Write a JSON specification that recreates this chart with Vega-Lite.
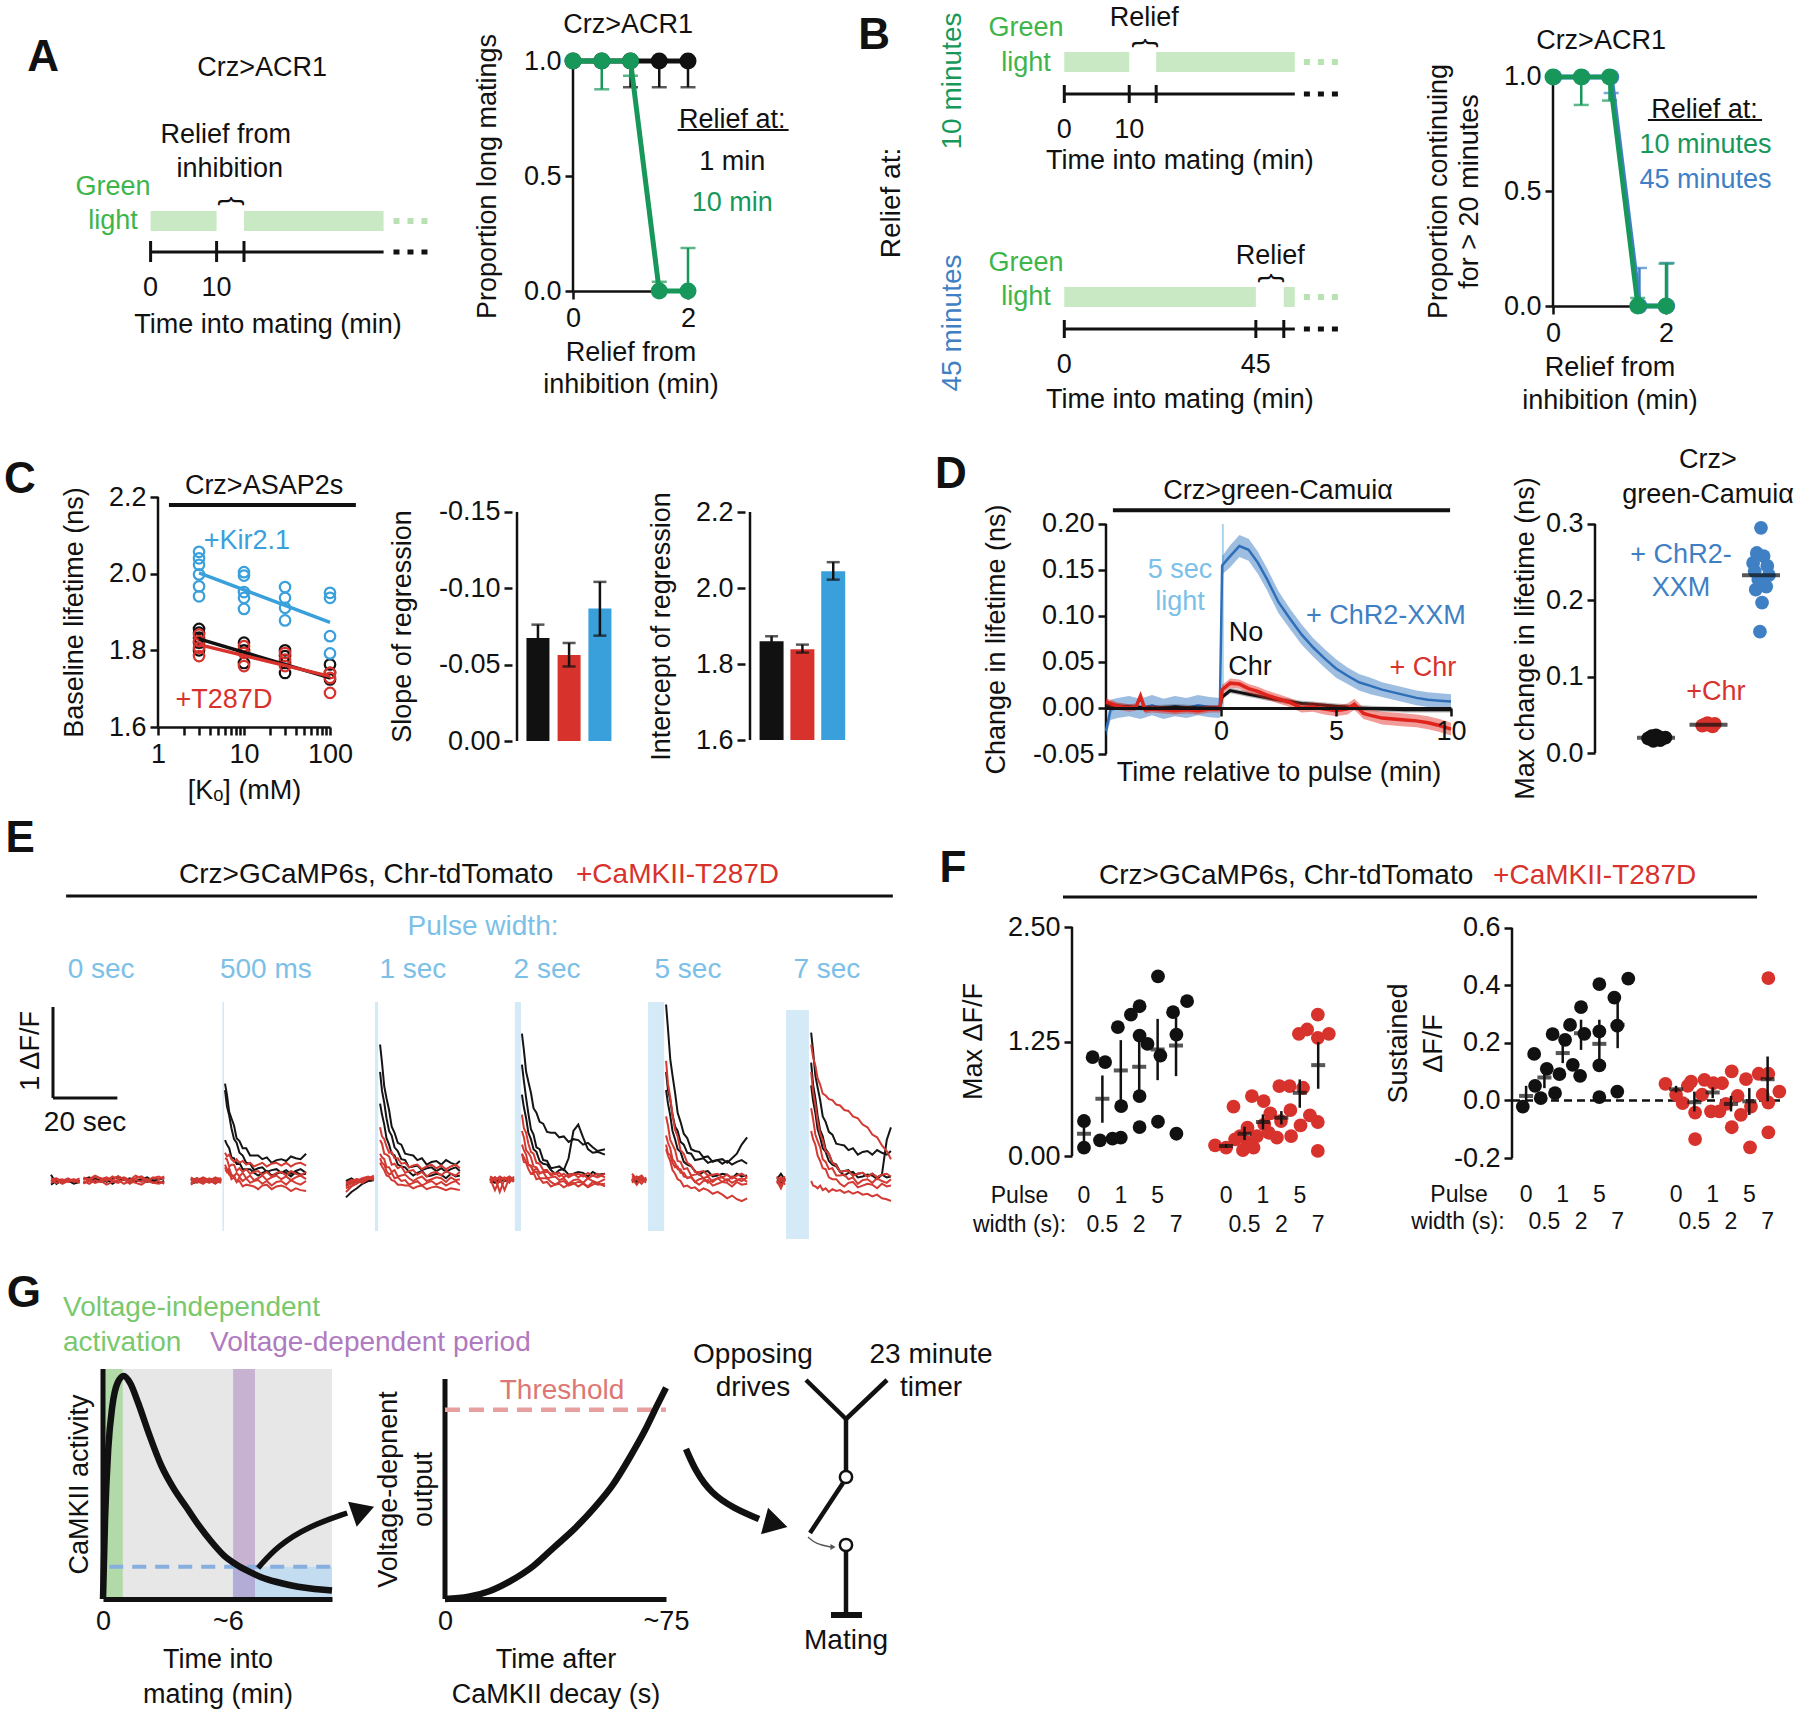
{
"$schema":"https://vega.github.io/schema/vega-lite/v6.json",
"padding":0,
"background":"white",
"config":{
 "view":{"stroke":null},
 "font":"Liberation Sans",
 "legend":{"disable":true},
 "axis":{"grid":false,"domainColor":"#111111","tickColor":"#111111","labelColor":"#111111","titleColor":"#111111","domainWidth":2.5,"tickWidth":2.5,"tickSize":8,"labelFontSize":27,"titleFontSize":27,"titleFontWeight":"normal","labelFont":"Liberation Sans","titleFont":"Liberation Sans","labelPadding":4,"titlePadding":8,"labelFlush":false,"labelOverlap":false,"titleLineHeight":33},
 "text":{"font":"Liberation Sans","fontSize":27},
 "concat":{"spacing":0}
},
"datasets":{
 "errA":[{"c":"k","x":1,"y":1,"y2":0.886},{"c":"k","x":1.5,"y":1,"y2":0.886},{"c":"k","x":2,"y":1,"y2":0.886},{"c":"g","x":0.5,"y":1,"y2":0.877},{"c":"g","x":1,"y":1,"y2":0.936},{"c":"g","x":1.5,"y":0,"y2":0.04},{"c":"g","x":2,"y":0,"y2":0.187}],
 "lineA":[{"c":"k","x":0,"y":1},{"c":"k","x":0.5,"y":1},{"c":"k","x":1,"y":1},{"c":"k","x":1.5,"y":1},{"c":"k","x":2,"y":1},{"c":"g","x":0,"y":1},{"c":"g","x":0.5,"y":1},{"c":"g","x":1,"y":1},{"c":"g","x":1.5,"y":0},{"c":"g","x":2,"y":0}],
 "errB":[{"c":"b","x":1.03,"y":1,"y2":0.93},{"c":"b","x":1.53,"y":0,"y2":0.166},{"c":"b","x":2.02,"y":0,"y2":0.188},{"c":"g","x":0.5,"y":1,"y2":0.878},{"c":"g","x":1,"y":1,"y2":0.897},{"c":"g","x":1.5,"y":0,"y2":0.035},{"c":"g","x":2,"y":0,"y2":0.185}],
 "lineB":[{"c":"b","x":0.02,"y":1},{"c":"b","x":0.52,"y":1},{"c":"b","x":1.03,"y":1},{"c":"b","x":1.53,"y":0},{"c":"b","x":2.02,"y":0},{"c":"g","x":0,"y":1},{"c":"g","x":0.5,"y":1},{"c":"g","x":1,"y":1},{"c":"g","x":1.5,"y":0},{"c":"g","x":2,"y":0}],
 "cpts":[
  {"c":"k","x":3,"y":1.856},{"c":"k","x":3,"y":1.846},{"c":"k","x":3,"y":1.833},{"c":"k","x":3,"y":1.82},{"c":"k","x":3,"y":1.80},
  {"c":"k","x":10,"y":1.82},{"c":"k","x":10,"y":1.80},{"c":"k","x":10,"y":1.767},
  {"c":"k","x":30,"y":1.80},{"c":"k","x":30,"y":1.785},{"c":"k","x":30,"y":1.767},{"c":"k","x":30,"y":1.741},
  {"c":"k","x":100,"y":1.763},{"c":"k","x":100,"y":1.741},{"c":"k","x":100,"y":1.724},
  {"c":"r","x":3,"y":1.841},{"c":"r","x":3,"y":1.824},{"c":"r","x":3,"y":1.807},{"c":"r","x":3,"y":1.785},
  {"c":"r","x":10,"y":1.811},{"c":"r","x":10,"y":1.793},{"c":"r","x":10,"y":1.759},
  {"c":"r","x":30,"y":1.793},{"c":"r","x":30,"y":1.776},{"c":"r","x":30,"y":1.759},
  {"c":"r","x":100,"y":1.741},{"c":"r","x":100,"y":1.728},{"c":"r","x":100,"y":1.689},
  {"c":"cb","x":3,"y":2.057},{"c":"cb","x":3,"y":2.040},{"c":"cb","x":3,"y":2.023},{"c":"cb","x":3,"y":1.998},{"c":"cb","x":3,"y":1.967},{"c":"cb","x":3,"y":1.941},
  {"c":"cb","x":10,"y":2.004},{"c":"cb","x":10,"y":1.995},{"c":"cb","x":10,"y":1.952},{"c":"cb","x":10,"y":1.937},{"c":"cb","x":10,"y":1.908},
  {"c":"cb","x":30,"y":1.965},{"c":"cb","x":30,"y":1.937},{"c":"cb","x":30,"y":1.911},{"c":"cb","x":30,"y":1.878},
  {"c":"cb","x":100,"y":1.950},{"c":"cb","x":100,"y":1.937},{"c":"cb","x":100,"y":1.837},{"c":"cb","x":100,"y":1.792}],
 "dtr":[
  {"c":"db","x":[-5,-4.8,-4.5,-4,-3.5,-3,-2.5,-2,-1.5,-1,-0.5,-0.05,0.05,0.4,0.8,1.2,1.6,2,2.5,3,3.5,4,4.5,5,5.5,6,6.5,7,7.5,8,8.5,9,9.5,10],
   "m":[-0.025,-0.002,0,0.002,-0.001,0.003,-0.001,0.002,0,0.003,0.001,0,0.155,0.165,0.176,0.172,0.158,0.14,0.115,0.097,0.08,0.066,0.054,0.043,0.035,0.028,0.024,0.02,0.017,0.014,0.011,0.009,0.008,0.007],
   "lo":[-0.031,-0.013,-0.011,-0.009,-0.012,-0.008,-0.012,-0.009,-0.011,-0.008,-0.010,-0.011,0.145,0.153,0.164,0.160,0.146,0.128,0.103,0.086,0.069,0.056,0.044,0.033,0.026,0.019,0.015,0.012,0.009,0.006,0.003,0.001,0.000,-0.001],
   "hi":[-0.019,0.009,0.011,0.013,0.010,0.014,0.010,0.013,0.011,0.014,0.012,0.011,0.165,0.177,0.188,0.184,0.170,0.152,0.127,0.108,0.091,0.076,0.064,0.053,0.044,0.037,0.033,0.028,0.025,0.022,0.019,0.017,0.016,0.015]},
  {"c":"k","x":[-5,-4,-3,-2,-1,-0.05,0.05,0.4,0.8,1.2,1.6,2,2.5,3,3.5,4,4.5,5,5.5,6,7,8,9,10],
   "m":[0.003,0.001,0,0.001,0,0,0.012,0.019,0.017,0.015,0.013,0.011,0.009,0.007,0.005,0.004,0.003,0.002,0.001,0,-0.001,-0.002,-0.002,-0.002],
   "lo":[0,-0.002,-0.003,-0.002,-0.003,-0.003,0.009,0.016,0.014,0.012,0.010,0.008,0.006,0.004,0.002,0.001,0,-0.001,-0.002,-0.003,-0.004,-0.005,-0.005,-0.005],
   "hi":[0.006,0.004,0.003,0.004,0.003,0.003,0.015,0.022,0.020,0.018,0.016,0.014,0.012,0.010,0.008,0.007,0.006,0.005,0.004,0.003,0.002,0.001,0.001,0.001]},
  {"c":"r","x":[-5,-4.5,-4,-3.7,-3.5,-3.3,-3,-2.5,-2,-1.5,-1,-0.5,-0.05,0.05,0.4,0.8,1.2,1.6,2,2.5,3,3.5,4,4.5,5,5.5,5.8,6.2,6.5,7,7.5,8,8.5,9,9.5,10],
   "m":[0.007,0.002,0,0.001,0.013,-0.002,-0.001,-0.002,-0.003,-0.002,-0.003,-0.001,-0.001,0.02,0.027,0.026,0.021,0.018,0.014,0.01,0.006,0,0.001,-0.001,-0.003,-0.001,0.004,-0.006,-0.008,-0.011,-0.012,-0.013,-0.014,-0.016,-0.019,-0.023],
   "lo":[0.003,-0.002,-0.004,-0.003,0.009,-0.006,-0.005,-0.006,-0.007,-0.006,-0.007,-0.005,-0.005,0.015,0.022,0.021,0.016,0.013,0.009,0.005,0.001,-0.005,-0.004,-0.007,-0.009,-0.007,-0.002,-0.012,-0.014,-0.018,-0.019,-0.020,-0.021,-0.023,-0.026,-0.030],
   "hi":[0.011,0.006,0.004,0.005,0.017,0.002,0.003,0.002,0.001,0.002,0.001,0.003,0.003,0.025,0.032,0.031,0.026,0.023,0.019,0.015,0.011,0.005,0.006,0.005,0.003,0.005,0.010,0.000,-0.002,-0.004,-0.005,-0.006,-0.007,-0.009,-0.012,-0.016]}],
 "ddot":[
  {"c":"k","x":0.85,"y":0.019},{"c":"k","x":0.92,"y":0.022},{"c":"k","x":0.98,"y":0.018},{"c":"k","x":1.05,"y":0.021},{"c":"k","x":1.12,"y":0.019},{"c":"k","x":1.18,"y":0.02},{"c":"k","x":0.95,"y":0.016},{"c":"k","x":1.08,"y":0.017},{"c":"k","x":1.0,"y":0.023},{"c":"k","x":1.02,"y":0.02},
  {"c":"r","x":1.92,"y":0.037},{"c":"r","x":1.98,"y":0.039},{"c":"r","x":2.05,"y":0.036},{"c":"r","x":2.12,"y":0.038},{"c":"r","x":1.88,"y":0.036},{"c":"r","x":2.08,"y":0.035},{"c":"r","x":2.0,"y":0.038},
  {"c":"b","x":3.0,"y":0.295},{"c":"b","x":2.92,"y":0.262},{"c":"b","x":3.05,"y":0.258},{"c":"b","x":2.85,"y":0.249},{"c":"b","x":3.12,"y":0.245},{"c":"b","x":2.88,"y":0.238},{"c":"b","x":3.15,"y":0.233},{"c":"b","x":2.95,"y":0.227},{"c":"b","x":3.1,"y":0.218},{"c":"b","x":2.9,"y":0.214},{"c":"b","x":3.02,"y":0.197},{"c":"b","x":2.98,"y":0.159}],
 "etr":[
  {"id":"0b1a","c":"k","x":[0.3,2,3.8,5.6,7.4,9.2],"v":[0.07,-0.03,0.01,0.0,-0.02,0.01]},
  {"id":"0b1b","c":"k","x":[10.4,12.2,14,15.8,17.6,19.4,21.2,23,24.8,26.6,28.4,30.2,32,33.8,35.5],"v":[0.02,0.04,0.0,0.03,-0.01,0.02,0.05,0.01,0.03,-0.01,0.02,0.04,0.0,0.02,0.03]},
  {"id":"0b2a","c":"k","x":[0.3,2,3.8,5.6,7.4,9.2],"v":[-0.04,0.0,-0.02,0.01,-0.03,-0.01]},
  {"id":"0b2b","c":"k","x":[10.4,12.2,14,15.8,17.6,19.4,21.2,23,24.8,26.6,28.4,30.2,32,33.8,35.5],"v":[-0.02,0.0,0.03,-0.01,0.02,-0.03,0.01,0.03,-0.02,0.0,0.02,-0.01,0.01,-0.02,0.0]},
  {"id":"0r1a","c":"r","x":[0.3,2,3.8,5.6,7.4,9.2],"v":[0.02,0.03,-0.01,0.02,0.0,0.03]},
  {"id":"0r1b","c":"r","x":[10.4,12.2,14,15.8,17.6,19.4,21.2,23,24.8,26.6,28.4,30.2,32,33.8,35.5],"v":[0.04,0.02,0.06,0.03,0.0,0.05,0.02,0.04,0.01,0.06,0.03,0.0,0.04,0.02,0.05]},
  {"id":"0r2a","c":"r","x":[0.3,2,3.8,5.6,7.4,9.2],"v":[-0.02,0.01,0.02,-0.01,0.01,-0.02]},
  {"id":"0r2b","c":"r","x":[10.4,12.2,14,15.8,17.6,19.4,21.2,23,24.8,26.6,28.4,30.2,32,33.8,35.5],"v":[0.0,-0.03,0.01,-0.01,0.03,0.0,-0.02,0.02,-0.03,0.01,-0.01,0.02,-0.02,0.0,-0.03]},
  {"id":"0r3a","c":"r","x":[0.3,2,3.8,5.6,7.4,9.2],"v":[0.01,-0.02,0.0,0.03,-0.01,0.0]},
  {"id":"0r3b","c":"r","x":[10.4,12.2,14,15.8,17.6,19.4,21.2,23,24.8,26.6,28.4,30.2,32,33.8,35.5],"v":[0.03,0.0,0.05,0.02,0.04,0.01,0.05,0.02,0.0,0.03,0.05,0.01,0.03,0.05,0.02]},
  {"id":"0r4a","c":"r","x":[0.3,2,3.8,5.6,7.4,9.2],"v":[0.0,0.02,-0.03,0.0,0.02,-0.01]},
  {"id":"0r4b","c":"r","x":[10.4,12.2,14,15.8,17.6,19.4,21.2,23,24.8,26.6,28.4,30.2,32,33.8,35.5],"v":[-0.03,0.01,-0.02,0.0,-0.04,-0.01,0.01,-0.03,0.0,-0.02,-0.04,0.0,-0.02,-0.03,-0.01]},
  {"id":"1b1a","c":"k","x":[43.8,45.7,47.6,49.5,51.4,53.2],"v":[0.02,-0.01,0.03,0.0,0.02,0.01]},
  {"id":"1b2a","c":"k","x":[43.8,45.7,47.6,49.5,51.4,53.2],"v":[-0.03,-0.01,0.02,0.0,-0.02,0.01]},
  {"id":"1b3a","c":"k","x":[43.8,45.7,47.6,49.5,51.4,53.2],"v":[0.01,0.03,-0.02,0.01,0.03,0.02]},
  {"id":"1r1a","c":"r","x":[43.8,45.7,47.6,49.5,51.4,53.2],"v":[0.0,0.03,0.01,-0.02,0.02,0.03]},
  {"id":"1r2a","c":"r","x":[43.8,45.7,47.6,49.5,51.4,53.2],"v":[-0.04,0.02,-0.01,0.03,0.0,-0.02]},
  {"id":"1r3a","c":"r","x":[43.8,45.7,47.6,49.5,51.4,53.2],"v":[0.03,-0.02,0.02,0.0,0.04,0.01]},
  {"id":"1r4a","c":"r","x":[43.8,45.7,47.6,49.5,51.4,53.2],"v":[-0.02,0.01,0.04,0.01,-0.03,0.02]},
  {"id":"1r5a","c":"r","x":[43.8,45.7,47.6,49.5,51.4,53.2],"v":[0.04,0.0,-0.03,0.02,0.01,-0.01]},
  {"id":"1b1b","c":"k","x":[54.4,55,55.7,56.4,57.2,58,58.9,59.9,61,62.2,63.4,64.7,66,67.4,68.9,70.4,71.9,73.4,74.9,76.4,77.9,79.6],"v":[1.07,0.95,0.76,0.69,0.61,0.47,0.44,0.36,0.36,0.28,0.28,0.28,0.24,0.26,0.20,0.23,0.24,0.22,0.27,0.25,0.24,0.30]},
  {"id":"1b2b","c":"k","x":[54.4,55,55.7,56.4,57.2,58,58.9,59.9,61,62.2,63.4,64.7,66,67.4,68.9,70.4,71.9,73.4,74.9,76.4,77.9,79.6],"v":[1.0,0.82,0.72,0.58,0.46,0.42,0.31,0.28,0.20,0.19,0.12,0.14,0.15,0.10,0.12,0.13,0.09,0.12,0.08,0.11,0.13,0.09]},
  {"id":"1b3b","c":"k","x":[54.4,55,55.7,56.4,57.2,58,58.9,59.9,61,62.2,63.4,64.7,66,67.4,68.9,70.4,71.9,73.4,74.9,76.4,77.9,79.6],"v":[0.45,0.40,0.36,0.26,0.25,0.19,0.20,0.13,0.13,0.13,0.09,0.06,0.09,0.11,0.06,0.08,0.10,0.09,0.05,0.10,0.07,0.08]},
  {"id":"1r1b","c":"r","x":[54.4,55,55.7,56.4,57.2,58,58.9,59.9,61,62.2,63.4,64.7,66,67.4,68.9,70.4,71.9,73.4,74.9,76.4,77.9,79.6],"v":[0.31,0.27,0.29,0.24,0.21,0.24,0.20,0.22,0.18,0.20,0.16,0.18,0.20,0.16,0.19,0.20,0.17,0.20,0.16,0.19,0.20,0.17]},
  {"id":"1r2b","c":"r","x":[54.4,55,55.7,56.4,57.2,58,58.9,59.9,61,62.2,63.4,64.7,66,67.4,68.9,70.4,71.9,73.4,74.9,76.4,77.9,79.6],"v":[0.25,0.24,0.16,0.18,0.18,0.11,0.14,0.10,0.13,0.08,0.10,0.11,0.07,0.10,0.05,0.09,0.10,0.06,0.11,0.08,0.06,0.10]},
  {"id":"1r3b","c":"r","x":[54.4,55,55.7,56.4,57.2,58,58.9,59.9,61,62.2,63.4,64.7,66,67.4,68.9,70.4,71.9,73.4,74.9,76.4,77.9,79.6],"v":[0.15,0.10,0.14,0.07,0.05,0.09,0.05,0.09,0.03,0.06,0.01,0.03,0.06,0.01,0.04,0.06,0.02,0.05,0.01,0.04,0.06,0.02]},
  {"id":"1r4b","c":"r","x":[54.4,55,55.7,56.4,57.2,58,58.9,59.9,61,62.2,63.4,64.7,66,67.4,68.9,70.4,71.9,73.4,74.9,76.4,77.9,79.6],"v":[0.12,0.11,0.07,0.05,0.06,-0.01,0.04,0.0,0.03,-0.02,0.0,0.01,-0.03,0.0,-0.05,-0.01,0.0,-0.04,0.01,-0.02,-0.04,0.0]},
  {"id":"1r5b","c":"r","x":[54.4,55,55.7,56.4,57.2,58,58.9,59.9,61,62.2,63.4,64.7,66,67.4,68.9,70.4,71.9,73.4,74.9,76.4,77.9,79.6],"v":[0.18,0.13,0.1,0.02,0.04,-0.01,0.0,-0.06,-0.04,-0.05,-0.06,-0.09,-0.05,-0.04,-0.09,-0.06,-0.05,-0.07,-0.11,-0.08,-0.1,-0.11]},
  {"id":"2b1a","c":"k","x":[92,93.7,95.4,97.1,98.9,100.7],"v":[-0.05,-0.02,0.0,0.02,0.01,0.02]},
  {"id":"2b2a","c":"k","x":[92,93.7,95.4,97.1,98.9,100.7],"v":[-0.18,-0.12,-0.08,-0.03,0.0,0.01]},
  {"id":"2b3a","c":"k","x":[92,93.7,95.4,97.1,98.9,100.7],"v":[0.0,0.03,-0.01,0.02,0.0,0.01]},
  {"id":"2r1a","c":"r","x":[92,93.7,95.4,97.1,98.9,100.7],"v":[-0.12,-0.06,-0.03,0.01,0.02,0.04]},
  {"id":"2r2a","c":"r","x":[92,93.7,95.4,97.1,98.9,100.7],"v":[-0.06,-0.02,0.02,0.0,0.03,0.01]},
  {"id":"2r3a","c":"r","x":[92,93.7,95.4,97.1,98.9,100.7],"v":[-0.02,0.01,0.0,0.03,0.05,0.02]},
  {"id":"2r4a","c":"r","x":[92,93.7,95.4,97.1,98.9,100.7],"v":[-0.08,-0.05,0.0,-0.02,0.02,0.03]},
  {"id":"2r5a","c":"r","x":[92,93.7,95.4,97.1,98.9,100.7],"v":[-0.03,0.0,0.02,-0.01,0.03,0.06]},
  {"id":"2b1b","c":"k","x":[102.6,103.2,103.9,104.6,105.4,106.2,107.1,108.1,109.2,110.4,111.6,112.9,114.2,115.6,117.1,118.6,120.1,121.6,123.1,124.6,126.1,127.4],"v":[1.50,1.30,1.04,0.91,0.78,0.60,0.53,0.42,0.40,0.30,0.29,0.28,0.23,0.25,0.18,0.21,0.22,0.18,0.23,0.20,0.18,0.22]},
  {"id":"2b2b","c":"k","x":[102.6,103.2,103.9,104.6,105.4,106.2,107.1,108.1,109.2,110.4,111.6,112.9,114.2,115.6,117.1,118.6,120.1,121.6,123.1,124.6,126.1,127.4],"v":[1.2,0.99,0.86,0.69,0.55,0.50,0.37,0.33,0.24,0.23,0.15,0.16,0.17,0.12,0.14,0.15,0.11,0.14,0.10,0.13,0.15,0.11]},
  {"id":"2b3b","c":"k","x":[102.6,103.2,103.9,104.6,105.4,106.2,107.1,108.1,109.2,110.4,111.6,112.9,114.2,115.6,117.1,118.6,120.1,121.6,123.1,124.6,126.1,127.4],"v":[0.85,0.73,0.62,0.47,0.40,0.30,0.28,0.18,0.16,0.15,0.10,0.06,0.09,0.11,0.05,0.06,0.08,0.07,0.03,0.08,0.05,0.06]},
  {"id":"2r1b","c":"r","x":[102.6,103.2,103.9,104.6,105.4,106.2,107.1,108.1,109.2,110.4,111.6,112.9,114.2,115.6,117.1,118.6,120.1,121.6,123.1,124.6,126.1,127.4],"v":[0.59,0.49,0.46,0.38,0.31,0.32,0.25,0.25,0.19,0.2,0.15,0.17,0.18,0.13,0.16,0.18,0.14,0.17,0.13,0.16,0.18,0.14]},
  {"id":"2r2b","c":"r","x":[102.6,103.2,103.9,104.6,105.4,106.2,107.1,108.1,109.2,110.4,111.6,112.9,114.2,115.6,117.1,118.6,120.1,121.6,123.1,124.6,126.1,127.4],"v":[0.45,0.41,0.30,0.29,0.27,0.18,0.19,0.14,0.16,0.09,0.11,0.12,0.07,0.10,0.05,0.09,0.10,0.06,0.11,0.08,0.06,0.10]},
  {"id":"2r3b","c":"r","x":[102.6,103.2,103.9,104.6,105.4,106.2,107.1,108.1,109.2,110.4,111.6,112.9,114.2,115.6,117.1,118.6,120.1,121.6,123.1,124.6,126.1,127.4],"v":[0.30,0.26,0.24,0.15,0.15,0.10,0.12,0.05,0.06,0.07,0.03,0.0,0.03,0.05,0.0,0.02,0.04,0.03,-0.01,0.04,0.01,0.02]},
  {"id":"2r4b","c":"r","x":[102.6,103.2,103.9,104.6,105.4,106.2,107.1,108.1,109.2,110.4,111.6,112.9,114.2,115.6,117.1,118.6,120.1,121.6,123.1,124.6,126.1,127.4],"v":[0.25,0.20,0.18,0.11,0.07,0.09,0.03,0.04,0.0,0.01,-0.04,-0.02,0.0,-0.05,-0.02,0.0,-0.04,-0.01,-0.05,-0.02,0.0,-0.04]},
  {"id":"2r5b","c":"r","x":[102.6,103.2,103.9,104.6,105.4,106.2,107.1,108.1,109.2,110.4,111.6,112.9,114.2,115.6,117.1,118.6,120.1,121.6,123.1,124.6,126.1,127.4],"v":[0.20,0.16,0.12,0.06,0.05,0.01,0.0,-0.04,-0.04,-0.05,-0.05,-0.08,-0.06,-0.05,-0.09,-0.07,-0.06,-0.08,-0.1,-0.08,-0.09,-0.1]},
  {"id":"3b1a","c":"k","x":[136.8,138.3,139.8,141.3,142.8,144.2],"v":[0.02,0.0,0.03,0.01,0.02,0.0]},
  {"id":"3b2a","c":"k","x":[136.8,138.3,139.8,141.3,142.8,144.2],"v":[0.0,0.02,-0.01,0.03,0.0,0.02]},
  {"id":"3b3a","c":"k","x":[136.8,138.3,139.8,141.3,142.8,144.2],"v":[0.01,-0.02,0.02,0.0,0.01,0.03]},
  {"id":"3r1a","c":"r","x":[136.8,138.3,139.8,141.3,142.8,144.2],"v":[0.03,-0.1,0.02,0.04,0.0,0.03]},
  {"id":"3r2a","c":"r","x":[136.8,138.3,139.8,141.3,142.8,144.2],"v":[0.0,0.04,-0.12,0.02,0.05,0.01]},
  {"id":"3r3a","c":"r","x":[136.8,138.3,139.8,141.3,142.8,144.2],"v":[0.05,0.02,0.03,-0.1,0.04,0.0]},
  {"id":"3r4a","c":"r","x":[136.8,138.3,139.8,141.3,142.8,144.2],"v":[-0.02,0.04,0.01,0.03,-0.02,0.05]},
  {"id":"3r5a","c":"r","x":[136.8,138.3,139.8,141.3,142.8,144.2],"v":[0.04,0.0,0.05,0.02,0.03,-0.01]},
  {"id":"3b1b","c":"k","x":[146.7,147.3,148,148.7,149.5,150.3,151.2,152.2,153.3,154.5,155.7,157,158.3,159.7,161.2,162.7,164.2,165.7,167.2,168.7,170.2,172.5],"v":[1.62,1.44,1.20,1.09,0.97,0.80,0.75,0.65,0.63,0.54,0.53,0.53,0.48,0.49,0.43,0.46,0.45,0.40,0.42,0.37,0.33,0.35]},
  {"id":"3b2b","c":"k","x":[146.7,147.3,148,148.7,149.5,150.3,151.2,152.2,153.3,154.5,155.7,157,158.3,159.7,161.2,162.7,164.2,165.7,167.2,168.7,170.2,172.5],"v":[1.28,1.10,0.91,0.74,0.57,0.51,0.37,0.35,0.23,0.22,0.14,0.15,0.16,0.12,0.25,0.55,0.62,0.48,0.35,0.31,0.32,0.29]},
  {"id":"3b3b","c":"k","x":[146.7,147.3,148,148.7,149.5,150.3,151.2,152.2,153.3,154.5,155.7,157,158.3,159.7,161.2,162.7,164.2,165.7,167.2,168.7,170.2,172.5],"v":[0.95,0.81,0.69,0.53,0.46,0.35,0.32,0.22,0.19,0.18,0.12,0.08,0.12,0.13,0.07,0.08,0.10,0.09,0.05,0.10,0.07,0.08]},
  {"id":"3r1b","c":"r","x":[146.7,147.3,148,148.7,149.5,150.3,151.2,152.2,153.3,154.5,155.7,157,158.3,159.7,161.2,162.7,164.2,165.7,167.2,168.7,170.2,172.5],"v":[0.73,0.58,0.53,0.41,0.32,0.30,0.20,0.19,0.12,0.12,0.06,0.08,0.09,0.04,0.07,0.08,0.04,0.07,0.03,0.06,0.08,0.04]},
  {"id":"3r2b","c":"r","x":[146.7,147.3,148,148.7,149.5,150.3,151.2,152.2,153.3,154.5,155.7,157,158.3,159.7,161.2,162.7,164.2,165.7,167.2,168.7,170.2,172.5],"v":[0.55,0.48,0.34,0.31,0.26,0.16,0.15,0.09,0.10,0.03,0.04,0.05,0.01,0.03,-0.03,0.01,0.02,-0.02,0.03,0.0,-0.02,0.02]},
  {"id":"3r3b","c":"r","x":[146.7,147.3,148,148.7,149.5,150.3,151.2,152.2,153.3,154.5,155.7,157,158.3,159.7,161.2,162.7,164.2,165.7,167.2,168.7,170.2,172.5],"v":[0.40,0.34,0.29,0.18,0.16,0.10,0.10,0.03,0.03,0.03,-0.01,-0.04,-0.01,0.0,-0.05,-0.03,-0.01,-0.02,-0.06,-0.01,-0.04,-0.03]},
  {"id":"3r4b","c":"r","x":[146.7,147.3,148,148.7,149.5,150.3,151.2,152.2,153.3,154.5,155.7,157,158.3,159.7,161.2,162.7,164.2,165.7,167.2,168.7,170.2,172.5],"v":[0.30,0.21,0.20,0.13,0.08,0.09,0.02,0.03,-0.02,-0.01,-0.06,-0.04,-0.03,-0.07,-0.04,-0.02,-0.06,-0.03,-0.07,-0.04,-0.02,-0.06]},
  {"id":"3r5b","c":"r","x":[146.7,147.3,148,148.7,149.5,150.3,151.2,152.2,153.3,154.5,155.7,157,158.3,159.7,161.2,162.7,164.2,165.7,167.2,168.7,170.2,172.5],"v":[0.30,0.26,0.21,0.18,0.17,0.11,0.14,0.08,0.10,0.10,0.08,0.09,0.05,0.08,0.04,0.07,0.08,0.05,0.09,0.06,0.04,0.08]},
  {"id":"4b1a","c":"k","x":[180.9,182.4,183.9,185.3],"v":[0.02,0.0,0.03,0.01]},
  {"id":"4b2a","c":"k","x":[180.9,182.4,183.9,185.3],"v":[0.0,0.03,0.01,0.02]},
  {"id":"4b3a","c":"k","x":[180.9,182.4,183.9,185.3],"v":[0.01,-0.01,0.02,0.0]},
  {"id":"4r1a","c":"r","x":[180.9,182.4,183.9,185.3],"v":[0.08,0.02,-0.03,0.04]},
  {"id":"4r2a","c":"r","x":[180.9,182.4,183.9,185.3],"v":[0.0,0.05,0.02,-0.02]},
  {"id":"4r3a","c":"r","x":[180.9,182.4,183.9,185.3],"v":[0.03,-0.04,0.04,0.01]},
  {"id":"4r4a","c":"r","x":[180.9,182.4,183.9,185.3],"v":[0.05,0.02,0.0,0.03]},
  {"id":"4r5a","c":"r","x":[180.9,182.4,183.9,185.3],"v":[-0.02,0.03,0.06,0.0]},
  {"id":"4b1b","c":"k","x":[191.5,192.1,192.8,193.5,194.3,195.1,196,197,198.1,199.3,200.5,201.8,203.1,204.5,206,207.5,209,210.5,212,213.5,215,216.7],"v":[1.94,1.67,1.34,1.16,0.97,0.75,0.65,0.52,0.47,0.35,0.33,0.32,0.26,0.27,0.21,0.23,0.24,0.20,0.25,0.30,0.40,0.48]},
  {"id":"4b2b","c":"k","x":[191.5,192.1,192.8,193.5,194.3,195.1,196,197,198.1,199.3,200.5,201.8,203.1,204.5,206,207.5,209,210.5,212,213.5,215,216.7],"v":[1.20,1.0,0.89,0.73,0.60,0.55,0.43,0.40,0.31,0.30,0.23,0.24,0.25,0.20,0.22,0.23,0.19,0.22,0.18,0.21,0.23,0.19]},
  {"id":"4b3b","c":"k","x":[191.5,192.1,192.8,193.5,194.3,195.1,196,197,198.1,199.3,200.5,201.8,203.1,204.5,206,207.5,209,210.5,212,213.5,215,216.7],"v":[1.0,0.85,0.72,0.55,0.46,0.35,0.32,0.21,0.18,0.16,0.11,0.07,0.10,0.11,0.05,0.06,0.08,0.07,0.03,0.08,0.05,0.06]},
  {"id":"4r1b","c":"r","x":[191.5,192.1,192.8,193.5,194.3,195.1,196,197,198.1,199.3,200.5,201.8,203.1,204.5,206,207.5,209,210.5,212,213.5,215,216.7],"v":[1.32,1.07,0.92,0.73,0.56,0.49,0.34,0.30,0.20,0.17,0.10,0.10,0.11,0.06,0.07,0.08,0.04,0.07,0.03,0.06,0.08,0.04]},
  {"id":"4r2b","c":"r","x":[191.5,192.1,192.8,193.5,194.3,195.1,196,197,198.1,199.3,200.5,201.8,203.1,204.5,206,207.5,209,210.5,212,213.5,215,216.7],"v":[0.71,0.61,0.45,0.40,0.34,0.22,0.21,0.13,0.14,0.06,0.07,0.08,0.03,0.05,-0.01,0.03,0.04,0.0,0.05,0.02,0.0,0.04]},
  {"id":"4r3b","c":"r","x":[191.5,192.1,192.8,193.5,194.3,195.1,196,197,198.1,199.3,200.5,201.8,203.1,204.5,206,207.5,209,210.5,212,213.5,215,216.7],"v":[0.50,0.42,0.36,0.24,0.20,0.13,0.13,0.05,0.04,0.04,-0.01,-0.04,0.0,0.01,-0.05,-0.03,-0.01,-0.02,-0.06,-0.01,-0.04,-0.03]},
  {"id":"4r4b","c":"r","x":[191.5,192.1,192.8,193.5,194.3,195.1,196,197,198.1,199.3,200.5,201.8,203.1,204.5,206,207.5,209,210.5,212,213.5,215,216.7],"v":[0.40,0.30,0.29,0.20,0.15,0.16,0.09,0.09,0.03,0.05,-0.01,0.02,0.03,-0.02,0.01,0.03,-0.01,0.02,-0.02,0.01,0.03,-0.01]},
  {"id":"4r5b","c":"r","x":[191.5,192.1,192.8,193.5,194.3,195.1,196,197,198.1,199.3,200.5,201.8,203.1,204.5,206,207.5,209,210.5,212,213.5,215,216.7],"v":[0.35,0.28,0.22,0.12,0.08,0.02,0.0,-0.06,-0.05,-0.08,-0.07,-0.11,-0.08,-0.1,-0.14,-0.12,-0.15,-0.19,-0.16,-0.2,-0.22,-0.19]},
  {"id":"5b1a","c":"k","x":[226,227.2,228.5],"v":[0.02,0.08,0.01]},
  {"id":"5b2a","c":"k","x":[226,227.2,228.5],"v":[0.0,0.02,-0.01]},
  {"id":"5b3a","c":"k","x":[226,227.2,228.5],"v":[0.01,-0.02,0.02]},
  {"id":"5r1a","c":"r","x":[226,227.2,228.5],"v":[0.05,-0.05,0.02]},
  {"id":"5r2a","c":"r","x":[226,227.2,228.5],"v":[-0.03,0.02,0.05]},
  {"id":"5r3a","c":"r","x":[226,227.2,228.5],"v":[0.0,-0.08,0.03]},
  {"id":"5r4a","c":"r","x":[226,227.2,228.5],"v":[0.03,0.01,-0.04]},
  {"id":"5r5a","c":"r","x":[226,227.2,228.5],"v":[-0.02,0.04,0.0]},
  {"id":"5b1b","c":"k","x":[236.6,237.2,237.9,238.6,239.4,240.2,241.1,242.1,243.2,244.4,245.6,246.9,248.2,249.6,251.1,252.6,254.1,255.6,257.1,258.6,260.1,261.4],"v":[1.63,1.43,1.16,1.03,0.89,0.71,0.65,0.54,0.51,0.41,0.40,0.39,0.34,0.36,0.29,0.32,0.33,0.29,0.34,0.31,0.29,0.33]},
  {"id":"5b2b","c":"k","x":[236.6,237.2,237.9,238.6,239.4,240.2,241.1,242.1,243.2,244.4,245.6,246.9,248.2,249.6,251.1,252.6,254.1,255.6,257.1,258.6,260.1,261.4],"v":[1.30,1.06,0.91,0.72,0.56,0.49,0.35,0.30,0.20,0.18,0.10,0.11,0.12,0.06,0.08,0.09,0.05,0.08,0.04,0.07,0.45,0.59]},
  {"id":"5b3b","c":"k","x":[236.6,237.2,237.9,238.6,239.4,240.2,241.1,242.1,243.2,244.4,245.6,246.9,248.2,249.6,251.1,252.6,254.1,255.6,257.1,258.6,260.1,261.4],"v":[1.05,0.88,0.75,0.57,0.48,0.36,0.32,0.22,0.18,0.16,0.10,0.06,0.09,0.10,0.04,0.05,0.07,0.06,0.02,0.07,0.04,0.05]},
  {"id":"5r1b","c":"r","x":[236.6,237.2,237.9,238.6,239.4,240.2,241.1,242.1,243.2,244.4,245.6,246.9,248.2,249.6,251.1,252.6,254.1,255.6,257.1,258.6,260.1,261.4],"v":[1.50,1.36,1.27,1.13,1.06,0.96,0.94,0.90,0.89,0.84,0.83,0.78,0.77,0.71,0.69,0.62,0.59,0.51,0.48,0.39,0.33,0.24]},
  {"id":"5r2b","c":"r","x":[236.6,237.2,237.9,238.6,239.4,240.2,241.1,242.1,243.2,244.4,245.6,246.9,248.2,249.6,251.1,252.6,254.1,255.6,257.1,258.6,260.1,261.4],"v":[1.2,0.98,0.84,0.66,0.52,0.45,0.33,0.30,0.20,0.17,0.10,0.11,0.11,0.06,0.08,0.09,0.05,0.08,0.04,0.07,0.08,0.05]},
  {"id":"5r3b","c":"r","x":[236.6,237.2,237.9,238.6,239.4,240.2,241.1,242.1,243.2,244.4,245.6,246.9,248.2,249.6,251.1,252.6,254.1,255.6,257.1,258.6,260.1,261.4],"v":[0.80,0.68,0.51,0.44,0.37,0.24,0.21,0.13,0.14,0.06,0.06,0.07,0.02,0.04,-0.03,0.01,0.02,-0.02,0.03,0.0,-0.02,0.02]},
  {"id":"5r4b","c":"r","x":[236.6,237.2,237.9,238.6,239.4,240.2,241.1,242.1,243.2,244.4,245.6,246.9,248.2,249.6,251.1,252.6,254.1,255.6,257.1,258.6,260.1,261.4],"v":[0.55,0.46,0.40,0.28,0.22,0.14,0.13,0.04,0.02,0.02,-0.03,-0.06,-0.02,-0.01,-0.07,-0.05,-0.03,-0.04,-0.08,-0.03,-0.06,-0.05]},
  {"id":"5r5b","c":"r","x":[236.6,237.2,237.9,238.6,239.4,240.2,241.1,242.1,243.2,244.4,245.6,246.9,248.2,249.6,251.1,252.6,254.1,255.6,257.1,258.6,260.1,261.4],"v":[0.0,-0.05,-0.06,-0.08,-0.05,-0.1,-0.08,-0.12,-0.09,-0.11,-0.1,-0.13,-0.11,-0.14,-0.12,-0.15,-0.14,-0.17,-0.15,-0.19,-0.2,-0.22]}],
 "f1p":[
  {"c":"k","x":0.65,"y":0.382},{"c":"k","x":0.65,"y":0.091},{"c":"k","x":1.12,"y":1.079},{"c":"k","x":1.80,"y":1.025},{"c":"k","x":1.52,"y":0.171},{"c":"k","x":2.20,"y":0.189},{"c":"k","x":2.65,"y":0.2},{"c":"k","x":2.49,"y":1.406},{"c":"k","x":2.67,"y":0.545},{"c":"k","x":3.20,"y":1.544},{"c":"k","x":3.67,"y":1.635},{"c":"k","x":3.67,"y":1.315},{"c":"k","x":4.10,"y":1.224},{"c":"k","x":3.67,"y":0.654},{"c":"k","x":3.67,"y":0.316},{"c":"k","x":4.67,"y":1.962},{"c":"k","x":4.80,"y":1.097},{"c":"k","x":4.67,"y":0.374},{"c":"k","x":5.49,"y":1.570},{"c":"k","x":5.67,"y":1.326},{"c":"k","x":5.67,"y":0.243},{"c":"k","x":6.25,"y":1.690},
  {"c":"r","x":7.77,"y":0.116},{"c":"r","x":8.37,"y":0.091},{"c":"r","x":8.77,"y":0.538},{"c":"r","x":8.86,"y":0.182},{"c":"r","x":9.28,"y":0.065},{"c":"r","x":9.53,"y":0.309},{"c":"r","x":9.77,"y":0.654},{"c":"r","x":9.86,"y":0.091},{"c":"r","x":10.04,"y":0.218},{"c":"r","x":10.41,"y":0.6},{"c":"r","x":10.44,"y":0.345},{"c":"r","x":10.68,"y":0.254},{"c":"r","x":10.77,"y":0.465},{"c":"r","x":11.13,"y":0.2},{"c":"r","x":11.26,"y":0.763},{"c":"r","x":11.35,"y":0.382},{"c":"r","x":11.82,"y":0.763},{"c":"r","x":11.86,"y":0.502},{"c":"r","x":11.90,"y":0.218},{"c":"r","x":12.41,"y":0.334},{"c":"r","x":12.55,"y":0.745},{"c":"r","x":12.32,"y":1.334},{"c":"r","x":12.77,"y":1.381},{"c":"r","x":12.92,"y":0.443},{"c":"r","x":13.35,"y":1.544},{"c":"r","x":13.35,"y":1.290},{"c":"r","x":13.95,"y":1.334},{"c":"r","x":13.35,"y":0.371},{"c":"r","x":13.35,"y":0.055},{"c":"r","x":9.13,"y":0.218},{"c":"r","x":9.53,"y":0.145}],
 "f1m":[
  {"x":0.65,"m":0.243,"lo":0.164,"hi":0.327},{"x":1.65,"m":0.625,"lo":0.363,"hi":0.879},{"x":2.65,"m":0.934,"lo":0.552,"hi":1.265},{"x":3.65,"m":0.974,"lo":0.654,"hi":1.29},{"x":4.65,"m":1.163,"lo":0.828,"hi":1.497},{"x":5.65,"m":1.206,"lo":0.872,"hi":1.508},
  {"x":8.37,"m":0.109,"lo":0.09,"hi":0.13},{"x":9.37,"m":0.243,"lo":0.174,"hi":0.32},{"x":10.37,"m":0.371,"lo":0.291,"hi":0.454},{"x":11.37,"m":0.418,"lo":0.345,"hi":0.49},{"x":12.37,"m":0.69,"lo":0.527,"hi":0.836},{"x":13.37,"m":0.992,"lo":0.734,"hi":1.243}],
 "f2p":[
  {"c":"k","x":0.59,"y":-0.021},{"c":"k","x":1.21,"y":0.162},{"c":"k","x":1.26,"y":0.051},{"c":"k","x":1.57,"y":0.008},{"c":"k","x":1.90,"y":0.110},{"c":"k","x":2.22,"y":0.231},{"c":"k","x":2.35,"y":0.026},{"c":"k","x":2.59,"y":0.092},{"c":"k","x":2.90,"y":0.211},{"c":"k","x":3.17,"y":0.263},{"c":"k","x":3.32,"y":0.124},{"c":"k","x":3.77,"y":0.325},{"c":"k","x":3.95,"y":0.232},{"c":"k","x":3.72,"y":0.086},{"c":"k","x":4.77,"y":0.405},{"c":"k","x":4.77,"y":0.240},{"c":"k","x":4.77,"y":0.122},{"c":"k","x":4.77,"y":0.012},{"c":"k","x":5.59,"y":0.358},{"c":"k","x":5.75,"y":0.260},{"c":"k","x":5.75,"y":0.031},{"c":"k","x":6.35,"y":0.424},
  {"c":"r","x":8.38,"y":0.058},{"c":"r","x":8.96,"y":0.020},{"c":"r","x":9.32,"y":-0.009},{"c":"r","x":9.60,"y":0.051},{"c":"r","x":10.0,"y":-0.042},{"c":"r","x":10.0,"y":-0.134},{"c":"r","x":9.78,"y":0.066},{"c":"r","x":10.38,"y":0.020},{"c":"r","x":10.51,"y":0.072},{"c":"r","x":10.87,"y":-0.038},{"c":"r","x":11.0,"y":0.060},{"c":"r","x":11.32,"y":-0.038},{"c":"r","x":11.47,"y":0.060},{"c":"r","x":12.0,"y":0.101},{"c":"r","x":12.0,"y":-0.093},{"c":"r","x":11.69,"y":-0.012},{"c":"r","x":12.32,"y":0.016},{"c":"r","x":12.5,"y":-0.05},{"c":"r","x":12.78,"y":0.074},{"c":"r","x":13.0,"y":-0.163},{"c":"r","x":13.05,"y":-0.021},{"c":"r","x":13.47,"y":0.093},{"c":"r","x":13.69,"y":0.020},{"c":"r","x":14.0,"y":0.426},{"c":"r","x":14.0,"y":0.093},{"c":"r","x":14.0,"y":-0.007},{"c":"r","x":14.0,"y":-0.111},{"c":"r","x":14.6,"y":0.031}],
 "f2m":[
  {"x":0.77,"m":0.016,"lo":-0.009,"hi":0.051},{"x":1.77,"m":0.08,"lo":0.043,"hi":0.112},{"x":2.77,"m":0.165,"lo":0.130,"hi":0.205},{"x":3.77,"m":0.234,"lo":0.176,"hi":0.281},{"x":4.77,"m":0.197,"lo":0.118,"hi":0.281},{"x":5.77,"m":0.263,"lo":0.182,"hi":0.374},
  {"x":8.96,"m":0.039,"lo":0.028,"hi":0.051},{"x":9.96,"m":-0.006,"lo":-0.038,"hi":0.031},{"x":10.96,"m":0.028,"lo":0.008,"hi":0.046},{"x":11.96,"m":-0.012,"lo":-0.038,"hi":0.016},{"x":12.96,"m":-0.003,"lo":-0.05,"hi":0.043},{"x":13.96,"m":0.074,"lo":-0.003,"hi":0.153}]
},
"spacing":0,
"bounds":"flush",
"vconcat":[
 {"spacing":0,"bounds":"flush","hconcat":[
  {"width":42,"height":1,"data":{"values":[{}]},"mark":{"type":"point","opacity":0}},
  {"width":396,"height":360,
   "encoding":{"x":{"field":"x","type":"quantitative","scale":{"domain":[-16,44],"nice":false,"zero":false},"axis":null},"y":{"field":"y","type":"quantitative","scale":{"domain":[0,36],"nice":false,"zero":false},"axis":null}},
   "layer":[
    {"data":{"values":[{"x":0,"x2":10,"y":13.2,"y2":15.2},{"x":14.15,"x2":35.3,"y":13.2,"y2":15.2}]},"mark":{"type":"rect","color":"#c9e9c4"},"encoding":{"x2":{"field":"x2"},"y2":{"field":"y2"}}},
    {"data":{"values":[{"x":36.8,"x2":42.4,"y":14.2,"y2":14.2}]},"mark":{"type":"rule","color":"#b9e2b2","strokeWidth":6,"strokeDash":[6,8]},"encoding":{"x2":{"field":"x2"},"y2":{"field":"y2"}}},
    {"data":{"values":[{"x":0,"x2":35.3,"y":11.1,"y2":11.1},{"x":0,"x2":0,"y":10.1,"y2":12.2},{"x":10,"x2":10,"y":10.1,"y2":12.2},{"x":14.15,"x2":14.15,"y":10.1,"y2":12.2}]},"mark":{"type":"rule","color":"#111111","strokeWidth":3},"encoding":{"x2":{"field":"x2"},"y2":{"field":"y2"}}},
    {"data":{"values":[{"x":36.8,"x2":42.4,"y":11.1,"y2":11.1}]},"mark":{"type":"rule","color":"#111111","strokeWidth":5,"strokeDash":[6,8]},"encoding":{"x2":{"field":"x2"},"y2":{"field":"y2"}}},
    {"data":{"values":[{"x":0,"y":7.5,"t":"0","c":"k"},{"x":10,"y":7.5,"t":"10","c":"k"},{"x":17.8,"y":3.8,"t":"Time into mating (min)","c":"k"},{"x":11.4,"y":22.8,"t":"Relief from","c":"k"},{"x":12.0,"y":19.4,"t":"inhibition","c":"k"},{"x":-5.7,"y":17.6,"t":"Green","c":"g"},{"x":-5.7,"y":14.2,"t":"light","c":"g"},{"x":16.9,"y":29.5,"t":"Crz>ACR1","c":"k"}]},"mark":{"type":"text","fontSize":27},"encoding":{"text":{"field":"t"},"color":{"field":"c","type":"nominal","scale":{"domain":["k","g","gd","b","r","lb","cb","pu","lg","tr"],"range":["#111111","#3db54a","#17985a","#3f80c5","#d8322c","#7cc0e8","#3aa0dc","#b07ac0","#79c86d","#dd7773"]},"legend":null}}},
    {"data":{"values":[{"x":12.1,"y":16.2,"t":"}"}]},"mark":{"type":"text","fontSize":28,"angle":270,"color":"#111111"},"encoding":{"text":{"field":"t"}}},
    {"data":{"values":[{"x":-16.3,"y":30.5,"t":"A"}]},"mark":{"type":"text","fontSize":44,"fontWeight":"bold","color":"#111111"},"encoding":{"text":{"field":"t"}}}
   ]}
 ]},
 {"spacing":0,"bounds":"flush","hconcat":[
  {"width":570,"height":1,"data":{"values":[{}]},"mark":{"type":"point","opacity":0}},
  {"width":115,"height":288,
   "encoding":{"x":{"field":"x","type":"quantitative","scale":{"domain":[0,2],"nice":false,"zero":false},"axis":{"values":[0,1,2],"format":"d","title":["Relief from","inhibition (min)"],"labelPadding":6,"titlePadding":8,"titleLineHeight":32}},
    "y":{"field":"y","type":"quantitative","scale":{"domain":[0,1.2522],"nice":false,"zero":false},"axis":{"values":[0,0.5,1],"format":".1f","domain":false,"title":"Proportion long matings","titlePadding":22,"titleY":173}}},
   "layer":[
    {"data":{"values":[{"x":0,"x2":0,"y":0,"y2":1}]},"mark":{"type":"rule","color":"#111111","strokeWidth":2.5},"encoding":{"x2":{"field":"x2"},"y2":{"field":"y2"}}},
    {"data":{"name":"errA"},"transform":[{"filter":"datum.c=='k'"}],"mark":{"type":"rule","color":"#111111","strokeWidth":2.5},"encoding":{"y2":{"field":"y2"}}},
    {"data":{"name":"errA"},"transform":[{"filter":"datum.c=='k'"}],"mark":{"type":"tick","orient":"horizontal","color":"#111111","size":15,"thickness":2.5},"encoding":{"y":{"field":"y2","type":"quantitative"}}},
    {"data":{"name":"lineA"},"transform":[{"filter":"datum.c=='k'"}],"mark":{"type":"line","color":"#111111","strokeWidth":5},"encoding":{}},
    {"data":{"name":"lineA"},"transform":[{"filter":"datum.c=='k'"}],"mark":{"type":"circle","color":"#111111","size":290,"opacity":1},"encoding":{}},
    {"data":{"name":"errA"},"transform":[{"filter":"datum.c=='g'"}],"mark":{"type":"rule","color":"#17985a","strokeWidth":2.5},"encoding":{"y2":{"field":"y2"}}},
    {"data":{"name":"errA"},"transform":[{"filter":"datum.c=='g'"}],"mark":{"type":"tick","orient":"horizontal","color":"#17985a","size":15,"thickness":2.5},"encoding":{"y":{"field":"y2","type":"quantitative"}}},
    {"data":{"name":"lineA"},"transform":[{"filter":"datum.c=='g'"}],"mark":{"type":"line","color":"#17985a","strokeWidth":5},"encoding":{}},
    {"data":{"name":"lineA"},"transform":[{"filter":"datum.c=='g'"}],"mark":{"type":"circle","color":"#17985a","size":290,"opacity":1},"encoding":{}},
    {"data":{"values":[{"x":1.82,"x2":3.75,"y":0.70,"y2":0.70}]},"mark":{"type":"rule","color":"#111111","strokeWidth":2},"encoding":{"x2":{"field":"x2"},"y2":{"field":"y2"}}},
    {"data":{"values":[{"x":2.77,"y":0.744,"t":"Relief at:","c":"k"},{"x":2.77,"y":0.56,"t":"1 min","c":"k"},{"x":2.77,"y":0.382,"t":"10 min","c":"gd"},{"x":0.96,"y":1.155,"t":"Crz>ACR1","c":"k"}]},"mark":{"type":"text","fontSize":27},"encoding":{"text":{"field":"t"},"color":{"field":"c","type":"nominal","scale":{"domain":["k","g","gd","b","r","lb","cb","pu","lg","tr"],"range":["#111111","#3db54a","#17985a","#3f80c5","#d8322c","#7cc0e8","#3aa0dc","#b07ac0","#79c86d","#dd7773"]},"legend":null}}}
   ]}
 ]},
 {"spacing":0,"bounds":"flush","hconcat":[
  {"width":860,"height":1,"data":{"values":[{}]},"mark":{"type":"point","opacity":0}},
  {"width":500,"height":420,
   "encoding":{"x":{"field":"x","type":"quantitative","scale":{"domain":[-31,46],"nice":false,"zero":false},"axis":null},"y":{"field":"y","type":"quantitative","scale":{"domain":[0,42],"nice":false,"zero":false},"axis":null}},
   "layer":[
    {"data":{"values":[{"x":0,"x2":10,"y":35.1,"y2":37.1},{"x":14.15,"x2":35.5,"y":35.1,"y2":37.1},{"x":0,"x2":29.5,"y":11.6,"y2":13.6},{"x":33.8,"x2":35.5,"y":11.6,"y2":13.6}]},"mark":{"type":"rect","color":"#c9e9c4"},"encoding":{"x2":{"field":"x2"},"y2":{"field":"y2"}}},
    {"data":{"values":[{"x":36.9,"x2":43.1,"y":36.1,"y2":36.1},{"x":36.9,"x2":43.1,"y":12.6,"y2":12.6}]},"mark":{"type":"rule","color":"#b9e2b2","strokeWidth":6,"strokeDash":[6,8]},"encoding":{"x2":{"field":"x2"},"y2":{"field":"y2"}}},
    {"data":{"values":[{"x":0,"x2":35.5,"y":32.9,"y2":32.9},{"x":0,"x2":0,"y":32.0,"y2":33.8},{"x":10,"x2":10,"y":32.0,"y2":33.8},{"x":14.15,"x2":14.15,"y":32.0,"y2":33.8},{"x":0,"x2":35.5,"y":9.4,"y2":9.4},{"x":0,"x2":0,"y":8.5,"y2":10.3},{"x":29.5,"x2":29.5,"y":8.5,"y2":10.3},{"x":33.8,"x2":33.8,"y":8.5,"y2":10.3}]},"mark":{"type":"rule","color":"#111111","strokeWidth":3},"encoding":{"x2":{"field":"x2"},"y2":{"field":"y2"}}},
    {"data":{"values":[{"x":36.9,"x2":43.1,"y":32.9,"y2":32.9},{"x":36.9,"x2":43.1,"y":9.4,"y2":9.4}]},"mark":{"type":"rule","color":"#111111","strokeWidth":5,"strokeDash":[6,8]},"encoding":{"x2":{"field":"x2"},"y2":{"field":"y2"}}},
    {"data":{"values":[{"x":-5.9,"y":39.5,"t":"Green","c":"g"},{"x":-5.9,"y":36,"t":"light","c":"g"},{"x":12.3,"y":40.5,"t":"Relief","c":"k"},{"x":0,"y":29.3,"t":"0","c":"k"},{"x":10,"y":29.3,"t":"10","c":"k"},{"x":17.8,"y":26.2,"t":"Time into mating (min)","c":"k"},{"x":-5.9,"y":16,"t":"Green","c":"g"},{"x":-5.9,"y":12.6,"t":"light","c":"g"},{"x":31.7,"y":16.7,"t":"Relief","c":"k"},{"x":0,"y":5.8,"t":"0","c":"k"},{"x":29.5,"y":5.8,"t":"45","c":"k"},{"x":17.8,"y":2.3,"t":"Time into mating (min)","c":"k"}]},"mark":{"type":"text","fontSize":27},"encoding":{"text":{"field":"t"},"color":{"field":"c","type":"nominal","scale":{"domain":["k","g","gd","b","r","lb","cb","pu","lg","tr"],"range":["#111111","#3db54a","#17985a","#3f80c5","#d8322c","#7cc0e8","#3aa0dc","#b07ac0","#79c86d","#dd7773"]},"legend":null}}},
    {"data":{"values":[{"x":-26.5,"y":22,"t":"Relief at:","c":"k"},{"x":-17.1,"y":34.2,"t":"10 minutes","c":"gd"},{"x":-17.1,"y":10,"t":"45 minutes","c":"b"}]},"mark":{"type":"text","fontSize":28,"angle":270},"encoding":{"text":{"field":"t"},"color":{"field":"c","type":"nominal","scale":{"domain":["k","g","gd","b","r","lb","cb","pu","lg","tr"],"range":["#111111","#3db54a","#17985a","#3f80c5","#d8322c","#7cc0e8","#3aa0dc","#b07ac0","#79c86d","#dd7773"]},"legend":null}}},
    {"data":{"values":[{"x":12.3,"y":38.0,"t":"}"},{"x":31.7,"y":14.5,"t":"}"}]},"mark":{"type":"text","fontSize":28,"angle":270,"color":"#111111"},"encoding":{"text":{"field":"t"}}},
    {"data":{"values":[{"x":-29.3,"y":38.7,"t":"B"}]},"mark":{"type":"text","fontSize":44,"fontWeight":"bold","color":"#111111"},"encoding":{"text":{"field":"t"}}}
   ]}
 ]},
 {"spacing":0,"bounds":"flush","hconcat":[
  {"width":1550,"height":1,"data":{"values":[{}]},"mark":{"type":"point","opacity":0}},
  {"width":113,"height":303,
   "encoding":{"x":{"field":"x","type":"quantitative","scale":{"domain":[0,2],"nice":false,"zero":false},"axis":{"values":[0,1,2],"format":"d","title":["Relief from","inhibition (min)"],"labelPadding":6,"titlePadding":8,"titleLineHeight":33}},
    "y":{"field":"y","type":"quantitative","scale":{"domain":[0,1.3231],"nice":false,"zero":false},"axis":{"values":[0,0.5,1],"format":".1f","domain":false,"title":["Proportion continuing","for > 20 minutes"],"titlePadding":20,"titleLineHeight":31,"titleY":188}}},
   "layer":[
    {"data":{"values":[{"x":0,"x2":0,"y":0,"y2":1}]},"mark":{"type":"rule","color":"#111111","strokeWidth":2.5},"encoding":{"x2":{"field":"x2"},"y2":{"field":"y2"}}},
    {"data":{"name":"errB"},"transform":[{"filter":"datum.c=='b'"}],"mark":{"type":"rule","color":"#3f80c5","strokeWidth":2.5},"encoding":{"y2":{"field":"y2"}}},
    {"data":{"name":"errB"},"transform":[{"filter":"datum.c=='b'"}],"mark":{"type":"tick","orient":"horizontal","color":"#3f80c5","size":15,"thickness":2.5},"encoding":{"y":{"field":"y2","type":"quantitative"}}},
    {"data":{"name":"lineB"},"transform":[{"filter":"datum.c=='b'"}],"mark":{"type":"line","color":"#3f80c5","strokeWidth":5},"encoding":{}},
    {"data":{"name":"lineB"},"transform":[{"filter":"datum.c=='b'"}],"mark":{"type":"circle","color":"#3f80c5","size":260,"opacity":1},"encoding":{}},
    {"data":{"name":"errB"},"transform":[{"filter":"datum.c=='g'"}],"mark":{"type":"rule","color":"#17985a","strokeWidth":2.5},"encoding":{"y2":{"field":"y2"}}},
    {"data":{"name":"errB"},"transform":[{"filter":"datum.c=='g'"}],"mark":{"type":"tick","orient":"horizontal","color":"#17985a","size":15,"thickness":2.5},"encoding":{"y":{"field":"y2","type":"quantitative"}}},
    {"data":{"name":"lineB"},"transform":[{"filter":"datum.c=='g'"}],"mark":{"type":"line","color":"#17985a","strokeWidth":4.5},"encoding":{}},
    {"data":{"name":"lineB"},"transform":[{"filter":"datum.c=='g'"}],"mark":{"type":"circle","color":"#17985a","size":290,"opacity":1},"encoding":{}},
    {"data":{"values":[{"x":1.68,"x2":3.7,"y":0.812,"y2":0.812}]},"mark":{"type":"rule","color":"#111111","strokeWidth":2},"encoding":{"x2":{"field":"x2"},"y2":{"field":"y2"}}},
    {"data":{"values":[{"x":2.68,"y":0.856,"t":"Relief at:","c":"k"},{"x":2.7,"y":0.703,"t":"10 minutes","c":"gd"},{"x":2.7,"y":0.55,"t":"45 minutes","c":"b"},{"x":0.85,"y":1.157,"t":"Crz>ACR1","c":"k"}]},"mark":{"type":"text","fontSize":27},"encoding":{"text":{"field":"t"},"color":{"field":"c","type":"nominal","scale":{"domain":["k","g","gd","b","r","lb","cb","pu","lg","tr"],"range":["#111111","#3db54a","#17985a","#3f80c5","#d8322c","#7cc0e8","#3aa0dc","#b07ac0","#79c86d","#dd7773"]},"legend":null}}}
   ]}
 ]},
 {"width":1,"height":430,"data":{"values":[{}]},"mark":{"type":"point","opacity":0}},
 {"spacing":0,"bounds":"flush","hconcat":[
  {"width":155,"height":1,"data":{"values":[{}]},"mark":{"type":"point","opacity":0}},
  {"width":172,"height":294,
   "encoding":{"x":{"field":"x","type":"quantitative","scale":{"type":"log","domain":[1,100],"nice":false},"axis":{"values":[1,2,3,4,5,6,7,8,9,10,20,30,40,50,60,70,80,90,100],"labelExpr":"datum.value==1||datum.value==10||datum.value==100?''+datum.value:''","title":"[Kₒ] (mM)","labelPadding":6,"titlePadding":10}},
    "y":{"field":"y","type":"quantitative","scale":{"domain":[1.6,2.367],"nice":false,"zero":false},"axis":{"values":[1.6,1.8,2.0,2.2],"format":".1f","domain":false,"title":"Baseline lifetime (ns)","titlePadding":20,"titleY":179}}},
   "layer":[
    {"data":{"values":[{"x":1,"x2":1,"y":1.6,"y2":2.2}]},"mark":{"type":"rule","color":"#111111","strokeWidth":2.5},"encoding":{"x2":{"field":"x2"},"y2":{"field":"y2"}}},
    {"data":{"name":"cpts"},"mark":{"type":"point","filled":false,"strokeWidth":2.2,"size":110,"opacity":1},"encoding":{"color":{"field":"c","type":"nominal","scale":{"domain":["k","g","gd","b","r","lb","cb","pu","lg","tr"],"range":["#111111","#3db54a","#17985a","#3f80c5","#d8322c","#7cc0e8","#3aa0dc","#b07ac0","#79c86d","#dd7773"]},"legend":null}}},
    {"data":{"values":[{"x":3,"x2":100,"y":2.002,"y2":1.873,"c":"cb"},{"x":3,"x2":100,"y":1.83,"y2":1.728,"c":"k"},{"x":3,"x2":100,"y":1.815,"y2":1.732,"c":"r"}]},"mark":{"type":"rule","strokeWidth":3.5},"encoding":{"x2":{"field":"x2"},"y2":{"field":"y2"},"color":{"field":"c","type":"nominal","scale":{"domain":["k","g","gd","b","r","lb","cb","pu","lg","tr"],"range":["#111111","#3db54a","#17985a","#3f80c5","#d8322c","#7cc0e8","#3aa0dc","#b07ac0","#79c86d","#dd7773"]},"legend":null}}},
    {"data":{"values":[{"x":1.34,"x2":200,"y":2.179,"y2":2.179}]},"mark":{"type":"rule","color":"#111111","strokeWidth":4},"encoding":{"x2":{"field":"x2"},"y2":{"field":"y2"}}},
    {"data":{"values":[{"x":17.1,"y":2.229,"t":"Crz>ASAP2s","c":"k"},{"x":10.8,"y":2.085,"t":"+Kir2.1","c":"cb"},{"x":5.85,"y":1.67,"t":"+T287D","c":"r"}]},"mark":{"type":"text","fontSize":27},"encoding":{"text":{"field":"t"},"color":{"field":"c","type":"nominal","scale":{"domain":["k","g","gd","b","r","lb","cb","pu","lg","tr"],"range":["#111111","#3db54a","#17985a","#3f80c5","#d8322c","#7cc0e8","#3aa0dc","#b07ac0","#79c86d","#dd7773"]},"legend":null}}},
    {"data":{"values":[{"x":0.0248,"y":2.244,"t":"C"}]},"mark":{"type":"text","fontSize":44,"fontWeight":"bold","color":"#111111"},"encoding":{"text":{"field":"t"}}}
   ]}
 ]},
 {"spacing":0,"bounds":"flush","hconcat":[
  {"width":509,"height":1,"data":{"values":[{}]},"mark":{"type":"point","opacity":0}},
  {"width":107,"height":308,
   "data":{"values":[{"g":"k","x":0.68,"v":-0.0674,"lo":-0.0586,"hi":-0.0762},{"g":"r","x":1.69,"v":-0.0563,"lo":-0.0488,"hi":-0.0642},{"g":"cb","x":2.69,"v":-0.0867,"lo":-0.069,"hi":-0.1042}]},
   "encoding":{"x":{"field":"x","type":"quantitative","scale":{"domain":[0,3.147],"nice":false,"zero":false},"axis":null},
    "y":{"field":"v","type":"quantitative","scale":{"domain":[0,-0.2017],"nice":false,"zero":false},"axis":{"values":[0,-0.05,-0.1,-0.15],"format":".2f","labelExpr":"replace(datum.label,'−','-')","domain":false,"title":"Slope of regression","titlePadding":22,"titleY":193}}},
   "layer":[
    {"mark":{"type":"bar","width":23},"encoding":{"y2":{"datum":0},"color":{"field":"g","type":"nominal","scale":{"domain":["k","g","gd","b","r","lb","cb","pu","lg","tr"],"range":["#111111","#3db54a","#17985a","#3f80c5","#d23b36","#7cc0e8","#3aa0dc","#b07ac0","#79c86d","#dd7773"]},"legend":null}}},
    {"mark":{"type":"rule","color":"#111111","strokeWidth":2.5},"encoding":{"y":{"field":"lo","type":"quantitative"},"y2":{"field":"hi"}}},
    {"mark":{"type":"tick","orient":"horizontal","color":"#111111","size":13,"thickness":2.5},"encoding":{"y":{"field":"lo","type":"quantitative"}}},
    {"mark":{"type":"tick","orient":"horizontal","color":"#111111","size":13,"thickness":2.5},"encoding":{"y":{"field":"hi","type":"quantitative"}}},
    {"data":{"values":[{"x":0,"x2":0,"v":0,"y2":-0.15}]},"mark":{"type":"rule","color":"#111111","strokeWidth":2.5},"encoding":{"x2":{"field":"x2"},"y2":{"field":"y2"}}}
   ]}
 ]},
 {"spacing":0,"bounds":"flush","hconcat":[
  {"width":742,"height":1,"data":{"values":[{}]},"mark":{"type":"point","opacity":0}},
  {"width":107,"height":307,
   "data":{"values":[{"g":"k","x":0.7,"v":1.86,"lo":1.845,"hi":1.873},{"g":"r","x":1.7,"v":1.839,"lo":1.83,"hi":1.851},{"g":"cb","x":2.7,"v":2.044,"lo":2.022,"hi":2.068}]},
   "encoding":{"x":{"field":"x","type":"quantitative","scale":{"domain":[0,3.147],"nice":false,"zero":false},"axis":null},
    "y":{"field":"v","type":"quantitative","scale":{"domain":[1.6,2.4079],"nice":false,"zero":false},"axis":{"values":[1.6,1.8,2.0,2.2],"format":".1f","domain":false,"title":"Intercept of regression","titlePadding":20,"titleY":193}}},
   "layer":[
    {"mark":{"type":"bar","width":24},"encoding":{"y2":{"datum":1.6},"color":{"field":"g","type":"nominal","scale":{"domain":["k","g","gd","b","r","lb","cb","pu","lg","tr"],"range":["#111111","#3db54a","#17985a","#3f80c5","#d23b36","#7cc0e8","#3aa0dc","#b07ac0","#79c86d","#dd7773"]},"legend":null}}},
    {"mark":{"type":"rule","color":"#111111","strokeWidth":2.5},"encoding":{"y":{"field":"lo","type":"quantitative"},"y2":{"field":"hi"}}},
    {"mark":{"type":"tick","orient":"horizontal","color":"#111111","size":13,"thickness":2.5},"encoding":{"y":{"field":"lo","type":"quantitative"}}},
    {"mark":{"type":"tick","orient":"horizontal","color":"#111111","size":13,"thickness":2.5},"encoding":{"y":{"field":"hi","type":"quantitative"}}},
    {"data":{"values":[{"x":0,"x2":0,"v":1.6,"y2":2.2}]},"mark":{"type":"rule","color":"#111111","strokeWidth":2.5},"encoding":{"x2":{"field":"x2"},"y2":{"field":"y2"}}}
   ]}
 ]},
 {"spacing":0,"bounds":"flush","hconcat":[
  {"width":1103,"height":1,"data":{"values":[{}]},"mark":{"type":"point","opacity":0}},
  {"width":345,"height":321,
   "encoding":{"x":{"field":"x","type":"quantitative","scale":{"domain":[-5,10],"nice":false,"zero":false},"axis":{"values":[0,5,10],"format":"d","offset":-46,"title":"Time relative to pulse (min)","labelPadding":2,"titlePadding":15,"domainWidth":3,"zindex":1}},
    "y":{"field":"y","type":"quantitative","scale":{"domain":[-0.05,0.2989],"nice":false,"zero":false},"axis":{"values":[-0.05,0,0.05,0.1,0.15,0.2],"format":".2f","labelExpr":"replace(datum.label,'−','-')","domain":false,"title":"Change in lifetime (ns)","titlePadding":22,"titleY":206}}},
   "layer":[
    {"data":{"values":[{"x":-5,"x2":-5,"y":-0.05,"y2":0.2}]},"mark":{"type":"rule","color":"#111111","strokeWidth":2.5},"encoding":{"x2":{"field":"x2"},"y2":{"field":"y2"}}},
    {"data":{"values":[{"x":0.08,"x2":0.08,"y":0,"y2":0.2}]},"mark":{"type":"rule","color":"#a9d5ef","strokeWidth":2},"encoding":{"x2":{"field":"x2"},"y2":{"field":"y2"}}},
    {"data":{"name":"dtr"},"transform":[{"filter":"datum.c=='db'"},{"flatten":["x","m","lo","hi"]}],"mark":{"type":"area","color":"#3b7cc4","opacity":0.5},"encoding":{"y":{"field":"lo","type":"quantitative"},"y2":{"field":"hi"}}},
    {"data":{"name":"dtr"},"transform":[{"filter":"datum.c=='db'"},{"flatten":["x","m","lo","hi"]}],"mark":{"type":"line","color":"#2f6fb8","strokeWidth":2.5},"encoding":{"y":{"field":"m","type":"quantitative"}}},
    {"data":{"name":"dtr"},"transform":[{"filter":"datum.c=='k'"},{"flatten":["x","m","lo","hi"]}],"mark":{"type":"area","color":"#111111","opacity":0.3},"encoding":{"y":{"field":"lo","type":"quantitative"},"y2":{"field":"hi"}}},
    {"data":{"name":"dtr"},"transform":[{"filter":"datum.c=='k'"},{"flatten":["x","m","lo","hi"]}],"mark":{"type":"line","color":"#111111","strokeWidth":3},"encoding":{"y":{"field":"m","type":"quantitative"}}},
    {"data":{"name":"dtr"},"transform":[{"filter":"datum.c=='r'"},{"flatten":["x","m","lo","hi"]}],"mark":{"type":"area","color":"#e0241b","opacity":0.45},"encoding":{"y":{"field":"lo","type":"quantitative"},"y2":{"field":"hi"}}},
    {"data":{"name":"dtr"},"transform":[{"filter":"datum.c=='r'"},{"flatten":["x","m","lo","hi"]}],"mark":{"type":"line","color":"#e0241b","strokeWidth":3.5},"encoding":{"y":{"field":"m","type":"quantitative"}}},
    {"data":{"values":[{"x":-4.7,"x2":9.96,"y":0.215,"y2":0.215}]},"mark":{"type":"rule","color":"#111111","strokeWidth":4},"encoding":{"x2":{"field":"x2"},"y2":{"field":"y2"}}},
    {"data":{"values":[{"x":2.48,"y":0.236,"t":"Crz>green-Camuiα","c":"k"},{"x":-1.78,"y":0.15,"t":"5 sec","c":"lb"},{"x":-1.78,"y":0.115,"t":"light","c":"lb"},{"x":7.17,"y":0.1,"t":"+ ChR2-XXM","c":"b"},{"x":1.09,"y":0.0815,"t":"No","c":"k"},{"x":1.26,"y":0.0446,"t":"Chr","c":"k"},{"x":8.78,"y":0.0435,"t":"+ Chr","c":"r"}]},"mark":{"type":"text","fontSize":27},"encoding":{"text":{"field":"t"},"color":{"field":"c","type":"nominal","scale":{"domain":["k","g","gd","b","r","lb","cb","pu","lg","tr"],"range":["#111111","#3db54a","#17985a","#3f80c5","#d8322c","#7cc0e8","#3aa0dc","#b07ac0","#79c86d","#dd7773"]},"legend":null}}},
    {"data":{"values":[{"x":-11.74,"y":0.253,"t":"D"}]},"mark":{"type":"text","fontSize":44,"fontWeight":"bold","color":"#111111"},"encoding":{"text":{"field":"t"}}}
   ]}
 ]},
 {"spacing":0,"bounds":"flush","hconcat":[
  {"width":1592,"height":1,"data":{"values":[{}]},"mark":{"type":"point","opacity":0}},
  {"width":203,"height":320,
   "encoding":{"x":{"field":"x","type":"quantitative","scale":{"domain":[-0.162,3.705],"nice":false,"zero":false},"axis":null},
    "y":{"field":"y","type":"quantitative","scale":{"domain":[0,0.4192],"nice":false,"zero":false},"axis":{"values":[0,0.1,0.2,0.3],"format":".1f","domain":false,"title":"Max change in lifetime (ns)","titleX":-56,"titleY":205}}},
   "layer":[
    {"data":{"values":[{"x":-0.162,"x2":-0.162,"y":0,"y2":0.3}]},"mark":{"type":"rule","color":"#111111","strokeWidth":2.5},"encoding":{"x2":{"field":"x2"},"y2":{"field":"y2"}}},
    {"data":{"name":"ddot"},"mark":{"type":"circle","size":190,"opacity":1},"encoding":{"color":{"field":"c","type":"nominal","scale":{"domain":["k","g","gd","b","r","lb","cb","pu","lg","tr"],"range":["#111111","#3db54a","#17985a","#4a7fc1","#d8322c","#7cc0e8","#3aa0dc","#b07ac0","#79c86d","#dd7773"]},"legend":null}}},
    {"data":{"values":[{"x":1,"y":0.02},{"x":2,"y":0.037},{"x":3,"y":0.233}]},"mark":{"type":"tick","orient":"horizontal","color":"#111111","size":38,"thickness":4},"encoding":{}},
    {"data":{"values":[{"x":1.99,"y":0.384,"t":"Crz>","c":"k"},{"x":1.99,"y":0.338,"t":"green-Camuiα","c":"k"},{"x":1.476,"y":0.259,"t":"+ ChR2-","c":"b"},{"x":1.476,"y":0.216,"t":"XXM","c":"b"},{"x":2.14,"y":0.08,"t":"+Chr","c":"r"}]},"mark":{"type":"text","fontSize":27},"encoding":{"text":{"field":"t"},"color":{"field":"c","type":"nominal","scale":{"domain":["k","g","gd","b","r","lb","cb","pu","lg","tr"],"range":["#111111","#3db54a","#17985a","#4a7fc1","#d8322c","#7cc0e8","#3aa0dc","#b07ac0","#79c86d","#dd7773"]},"legend":null}}}
   ]}
 ]},
 {"width":1,"height":390,"data":{"values":[{}]},"mark":{"type":"point","opacity":0}},
 {"spacing":0,"bounds":"flush","hconcat":[
  {"width":900,"height":430,
   "encoding":{"x":{"field":"x","type":"quantitative","scale":{"domain":[-14.61,265.15],"nice":false,"zero":false},"axis":null},"y":{"field":"y","type":"quantitative","scale":{"domain":[-0.791,3.934],"nice":false,"zero":false},"axis":null}},
   "layer":[
    {"data":{"values":[{"x":53.6,"x2":54.1,"y":-0.549,"y2":1.967},{"x":101,"x2":102,"y":-0.549,"y2":1.967},{"x":144.5,"x2":146.4,"y":-0.549,"y2":1.967},{"x":185.9,"x2":190.9,"y":-0.549,"y2":1.967},{"x":228.8,"x2":235.9,"y":-0.637,"y2":1.879}]},"mark":{"type":"rect","color":"#d4eaf7"},"encoding":{"x2":{"field":"x2"},"y2":{"field":"y2"}}},
    {"data":{"name":"etr"},"transform":[{"filter":"datum.c=='k'"},{"flatten":["x","v"]}],"mark":{"type":"line","color":"#151515","strokeWidth":2},"encoding":{"y":{"field":"v","type":"quantitative"},"detail":{"field":"id","type":"nominal"}}},
    {"data":{"name":"etr"},"transform":[{"filter":"datum.c=='r'"},{"flatten":["x","v"]}],"mark":{"type":"line","color":"#d23a33","strokeWidth":2},"encoding":{"y":{"field":"v","type":"quantitative"},"detail":{"field":"id","type":"nominal"}}},
    {"data":{"values":[{"x":0.93,"x2":0.93,"y":0.912,"y2":1.912},{"x":0.93,"x2":20.93,"y":0.912,"y2":0.912},{"x":5,"x2":262,"y":3.132,"y2":3.132}]},"mark":{"type":"rule","color":"#111111","strokeWidth":3},"encoding":{"x2":{"field":"x2"},"y2":{"field":"y2"}}},
    {"data":{"values":[{"x":40.1,"y":3.363,"t":"Crz>GCaMP6s, Chr-tdTomato","c":"k"},{"x":163.5,"y":3.363,"t":"+CaMKII-T287D","c":"r"}]},"mark":{"type":"text","fontSize":28,"align":"left"},"encoding":{"text":{"field":"t"},"color":{"field":"c","type":"nominal","scale":{"domain":["k","g","gd","b","r","lb","cb","pu","lg","tr"],"range":["#111111","#3db54a","#17985a","#3f80c5","#d8322c","#7cc0e8","#3aa0dc","#b07ac0","#79c86d","#dd7773"]},"legend":null}}},
    {"data":{"values":[{"x":134.6,"y":2.791,"t":"Pulse width:","c":"lb"},{"x":15.9,"y":2.319,"t":"0 sec","c":"lb"},{"x":67.1,"y":2.319,"t":"500 ms","c":"lb"},{"x":112.8,"y":2.319,"t":"1 sec","c":"lb"},{"x":154.5,"y":2.319,"t":"2 sec","c":"lb"},{"x":198.3,"y":2.319,"t":"5 sec","c":"lb"},{"x":241.5,"y":2.319,"t":"7 sec","c":"lb"},{"x":10.9,"y":0.637,"t":"20 sec","c":"k"}]},"mark":{"type":"text","fontSize":28},"encoding":{"text":{"field":"t"},"color":{"field":"c","type":"nominal","scale":{"domain":["k","g","gd","b","r","lb","cb","pu","lg","tr"],"range":["#111111","#3db54a","#17985a","#3f80c5","#d8322c","#7cc0e8","#3aa0dc","#b07ac0","#79c86d","#dd7773"]},"legend":null}}},
    {"data":{"values":[{"x":-5.9,"y":1.43,"t":"1 ΔF/F"}]},"mark":{"type":"text","fontSize":27,"angle":270,"color":"#111111"},"encoding":{"text":{"field":"t"}}},
    {"data":{"values":[{"x":-9.3,"y":3.76,"t":"E"}]},"mark":{"type":"text","fontSize":44,"fontWeight":"bold","color":"#111111"},"encoding":{"text":{"field":"t"}}}
   ]}
 ]},
 {"spacing":0,"bounds":"flush","hconcat":[
  {"width":1069,"height":1,"data":{"values":[{}]},"mark":{"type":"point","opacity":0}},
  {"width":267,"height":333,
   "encoding":{"x":{"field":"x","type":"quantitative","scale":{"domain":[0,14.5],"nice":false,"zero":false},"axis":null},
    "y":{"field":"y","type":"quantitative","scale":{"domain":[0,3.6354],"nice":false,"zero":false},"axis":{"values":[0,1.25,2.5],"format":".2f","domain":false,"title":"Max ΔF/F","titlePadding":20,"titleY":218}}},
   "layer":[
    {"data":{"values":[{"x":0,"x2":0,"y":0,"y2":2.5}]},"mark":{"type":"rule","color":"#111111","strokeWidth":2.5},"encoding":{"x2":{"field":"x2"},"y2":{"field":"y2"}}},
    {"data":{"name":"f1p"},"mark":{"type":"circle","size":190,"opacity":1},"encoding":{"color":{"field":"c","type":"nominal","scale":{"domain":["k","r"],"range":["#161616","#d03c38"]},"legend":null}}},
    {"data":{"name":"f1m"},"mark":{"type":"rule","color":"#111111","strokeWidth":2.5},"encoding":{"y":{"field":"lo","type":"quantitative"},"y2":{"field":"hi"}}},
    {"data":{"name":"f1m"},"mark":{"type":"tick","orient":"horizontal","color":"#111111","size":14,"thickness":4},"encoding":{"y":{"field":"m","type":"quantitative"}}},
    {"data":{"values":[{"x":-0.49,"x2":37.2,"y":2.828,"y2":2.828}]},"mark":{"type":"rule","color":"#111111","strokeWidth":3},"encoding":{"x2":{"field":"x2"},"y2":{"field":"y2"}}},
    {"data":{"values":[{"x":1.47,"y":3.057,"t":"Crz>GCaMP6s, Chr-tdTomato","c":"k"},{"x":22.87,"y":3.057,"t":"+CaMKII-T287D","c":"r"}]},"mark":{"type":"text","fontSize":28,"align":"left"},"encoding":{"text":{"field":"t"},"color":{"field":"c","type":"nominal","scale":{"domain":["k","r"],"range":["#111111","#d8322c"]},"legend":null}}},
    {"data":{"values":[{"x":-2.85,"y":-0.437,"t":"Pulse"},{"x":-2.85,"y":-0.753,"t":"width (s):"},{"x":0.65,"y":-0.437,"t":"0"},{"x":2.65,"y":-0.437,"t":"1"},{"x":4.65,"y":-0.437,"t":"5"},{"x":8.37,"y":-0.437,"t":"0"},{"x":10.37,"y":-0.437,"t":"1"},{"x":12.37,"y":-0.437,"t":"5"},{"x":1.65,"y":-0.753,"t":"0.5"},{"x":3.65,"y":-0.753,"t":"2"},{"x":5.65,"y":-0.753,"t":"7"},{"x":9.37,"y":-0.753,"t":"0.5"},{"x":11.37,"y":-0.753,"t":"2"},{"x":13.37,"y":-0.753,"t":"7"}]},"mark":{"type":"text","fontSize":23,"color":"#111111"},"encoding":{"text":{"field":"t"}}},
    {"data":{"values":[{"x":-6.46,"y":3.133,"t":"F"}]},"mark":{"type":"text","fontSize":44,"fontWeight":"bold","color":"#111111"},"encoding":{"text":{"field":"t"}}}
   ]}
 ]},
 {"spacing":0,"bounds":"flush","hconcat":[
  {"width":1509,"height":1,"data":{"values":[{}]},"mark":{"type":"point","opacity":0}},
  {"width":271,"height":335,
   "encoding":{"x":{"field":"x","type":"quantitative","scale":{"domain":[0,14.8],"nice":false,"zero":false},"axis":null},
    "y":{"field":"y","type":"quantitative","scale":{"domain":[-0.2,0.9652],"nice":false,"zero":false},"axis":{"values":[-0.2,0,0.2,0.4,0.6],"format":".1f","labelExpr":"replace(datum.label,'−','-')","domain":false,"title":["Sustained","ΔF/F"],"titlePadding":6,"titleLineHeight":35,"titleY":220}}},
   "layer":[
    {"data":{"values":[{"x":0,"x2":0,"y":-0.2,"y2":0.6}]},"mark":{"type":"rule","color":"#111111","strokeWidth":2.5},"encoding":{"x2":{"field":"x2"},"y2":{"field":"y2"}}},
    {"data":{"values":[{"x":0,"x2":14.8,"y":0,"y2":0}]},"mark":{"type":"rule","color":"#111111","strokeWidth":2.5,"strokeDash":[8,5]},"encoding":{"x2":{"field":"x2"},"y2":{"field":"y2"}}},
    {"data":{"name":"f2p"},"mark":{"type":"circle","size":190,"opacity":1},"encoding":{"color":{"field":"c","type":"nominal","scale":{"domain":["k","r"],"range":["#161616","#d03c38"]},"legend":null}}},
    {"data":{"name":"f2m"},"mark":{"type":"rule","color":"#111111","strokeWidth":2.5},"encoding":{"y":{"field":"lo","type":"quantitative"},"y2":{"field":"hi"}}},
    {"data":{"name":"f2m"},"mark":{"type":"tick","orient":"horizontal","color":"#111111","size":14,"thickness":4},"encoding":{"y":{"field":"m","type":"quantitative"}}},
    {"data":{"values":[{"x":-2.89,"y":-0.329,"t":"Pulse"},{"x":-2.95,"y":-0.423,"t":"width (s):"},{"x":0.77,"y":-0.329,"t":"0"},{"x":2.77,"y":-0.329,"t":"1"},{"x":4.77,"y":-0.329,"t":"5"},{"x":8.96,"y":-0.329,"t":"0"},{"x":10.96,"y":-0.329,"t":"1"},{"x":12.96,"y":-0.329,"t":"5"},{"x":1.77,"y":-0.423,"t":"0.5"},{"x":3.77,"y":-0.423,"t":"2"},{"x":5.77,"y":-0.423,"t":"7"},{"x":9.96,"y":-0.423,"t":"0.5"},{"x":11.96,"y":-0.423,"t":"2"},{"x":13.96,"y":-0.423,"t":"7"}]},"mark":{"type":"text","fontSize":23,"color":"#111111"},"encoding":{"text":{"field":"t"}}}
   ]}
 ]},
 {"width":1,"height":440,"data":{"values":[{}]},"mark":{"type":"point","opacity":0}},
 {"spacing":0,"bounds":"flush","hconcat":[
  {"width":100,"height":1,"data":{"values":[{}]},"mark":{"type":"point","opacity":0}},
  {"width":229,"height":336,
   "encoding":{"x":{"field":"x","type":"quantitative","scale":{"domain":[0,11],"nice":false,"zero":false},"axis":{"values":[0,6],"labelExpr":"datum.value==6?'~6':'0'","ticks":false,"domainWidth":5,"labelPadding":9,"title":["Time into","mating (min)"],"titlePadding":12,"titleLineHeight":35,"zindex":1}},
    "y":{"field":"y","type":"quantitative","scale":{"domain":[0,1.4609],"nice":false,"zero":false},"axis":{"labels":false,"ticks":false,"domain":false,"title":"CaMKII activity","titlePadding":10,"titleY":221}}},
   "layer":[
    {"data":{"values":[{"x":0,"x2":11,"y":0,"y2":1}]},"mark":{"type":"rect","color":"#e7e7e7"},"encoding":{"x2":{"field":"x2"},"y2":{"field":"y2"}}},
    {"data":{"values":[{"x":6.23,"x2":11,"y":0,"y2":0.14}]},"mark":{"type":"rect","color":"#c3dcf0"},"encoding":{"x2":{"field":"x2"},"y2":{"field":"y2"}}},
    {"data":{"values":[{"x":6.25,"x2":7.3,"y":0,"y2":1}]},"mark":{"type":"rect","color":"#9f72b8","opacity":0.45},"encoding":{"x2":{"field":"x2"},"y2":{"field":"y2"}}},
    {"data":{"values":[{"x":0,"x2":0.95,"y":0,"y2":1}]},"mark":{"type":"rect","color":"#8fd07f","opacity":0.6},"encoding":{"x2":{"field":"x2"},"y2":{"field":"y2"}}},
    {"data":{"values":[{"x":0.3,"x2":11,"y":0.14,"y2":0.14}]},"mark":{"type":"rule","color":"#86aede","strokeWidth":4,"strokeDash":[14,9]},"encoding":{"x2":{"field":"x2"},"y2":{"field":"y2"}}},
    {"data":{"values":[{"x":0,"x2":0,"y":0,"y2":1}]},"mark":{"type":"rule","color":"#111111","strokeWidth":5},"encoding":{"x2":{"field":"x2"},"y2":{"field":"y2"}}},
    {"data":{"values":[{"x":0,"y":0},{"x":0.1,"y":0.35},{"x":0.25,"y":0.65},{"x":0.45,"y":0.84},{"x":0.7,"y":0.94},{"x":1.0,"y":0.97},{"x":1.3,"y":0.94},{"x":1.7,"y":0.85},{"x":2.2,"y":0.72},{"x":2.8,"y":0.58},{"x":3.4,"y":0.48},{"x":4,"y":0.40},{"x":4.6,"y":0.32},{"x":5.2,"y":0.25},{"x":5.8,"y":0.19},{"x":6.4,"y":0.15},{"x":7,"y":0.12},{"x":7.6,"y":0.095},{"x":8.3,"y":0.075},{"x":9,"y":0.06},{"x":9.8,"y":0.048},{"x":10.6,"y":0.04},{"x":11,"y":0.037}]},"mark":{"type":"line","color":"#111111","strokeWidth":6.5,"interpolate":"monotone"},"encoding":{}},
    {"data":{"values":[{"x":7.45,"y":0.135},{"x":8.37,"y":0.23},{"x":9.9,"y":0.317},{"x":11.73,"y":0.374}]},"mark":{"type":"line","color":"#111111","strokeWidth":5.5,"interpolate":"basis"},"encoding":{}},
    {"data":{"values":[{"x":12.5,"y":0.385}]},"mark":{"type":"point","shape":"triangle-right","filled":true,"color":"#111111","size":700,"opacity":1,"angle":-19},"encoding":{}},
    {"data":{"values":[{"x":-1.92,"y":1.265,"t":"Voltage-independent","c":"lg"},{"x":-1.92,"y":1.113,"t":"activation","c":"lg"},{"x":5.14,"y":1.113,"t":"Voltage-dependent period","c":"pu"}]},"mark":{"type":"text","fontSize":28,"align":"left"},"encoding":{"text":{"field":"t"},"color":{"field":"c","type":"nominal","scale":{"domain":["k","g","gd","b","r","lb","cb","pu","lg","tr"],"range":["#111111","#3db54a","#17985a","#3f80c5","#d8322c","#7cc0e8","#3aa0dc","#b07ac0","#79c86d","#dd7773"]},"legend":null}}},
    {"data":{"values":[{"x":-3.8,"y":1.326,"t":"G"}]},"mark":{"type":"text","fontSize":44,"fontWeight":"bold","color":"#111111"},"encoding":{"text":{"field":"t"}}}
   ]}
 ]},
 {"spacing":0,"bounds":"flush","hconcat":[
  {"width":442,"height":1,"data":{"values":[{}]},"mark":{"type":"point","opacity":0}},
  {"width":221,"height":336,
   "encoding":{"x":{"field":"x","type":"quantitative","scale":{"domain":[0,75],"nice":false,"zero":false},"axis":{"values":[0,75],"labelExpr":"datum.value==75?'~75':'0'","ticks":false,"domainWidth":5,"labelPadding":9,"title":["Time after","CaMKII decay (s)"],"titlePadding":12,"titleLineHeight":35,"zindex":1}},
    "y":{"field":"y","type":"quantitative","scale":{"domain":[0,1.5273],"nice":false,"zero":false},"axis":{"labels":false,"ticks":false,"domain":false,"title":["Voltage-depnent","output"],"titlePadding":8,"titleLineHeight":35,"titleY":226}}},
   "layer":[
    {"data":{"values":[{"x":0,"x2":0,"y":0,"y2":1}]},"mark":{"type":"rule","color":"#111111","strokeWidth":5},"encoding":{"x2":{"field":"x2"},"y2":{"field":"y2"}}},
    {"data":{"values":[{"x":0,"x2":75,"y":0.86,"y2":0.86}]},"mark":{"type":"rule","color":"#e6a0a0","strokeWidth":4.5,"strokeDash":[15,9]},"encoding":{"x2":{"field":"x2"},"y2":{"field":"y2"}}},
    {"data":{"values":[{"x":0,"y":0},{"x":8,"y":0.01},{"x":15,"y":0.035},{"x":22,"y":0.08},{"x":30,"y":0.15},{"x":37,"y":0.235},{"x":44,"y":0.32},{"x":51,"y":0.42},{"x":57,"y":0.52},{"x":63,"y":0.65},{"x":68,"y":0.77},{"x":72,"y":0.88},{"x":75,"y":0.96}]},"mark":{"type":"line","color":"#111111","strokeWidth":6.5,"interpolate":"monotone"},"encoding":{}},
    {"data":{"values":[{"x":39.7,"y":0.945,"t":"Threshold","c":"tr"}]},"mark":{"type":"text","fontSize":28},"encoding":{"text":{"field":"t"},"color":{"field":"c","type":"nominal","scale":{"domain":["k","g","gd","b","r","lb","cb","pu","lg","tr"],"range":["#111111","#3db54a","#17985a","#3f80c5","#d8322c","#7cc0e8","#3aa0dc","#b07ac0","#79c86d","#dd7773"]},"legend":null}}}
   ]}
 ]},
 {"spacing":0,"bounds":"flush","hconcat":[
  {"width":680,"height":1,"data":{"values":[{}]},"mark":{"type":"point","opacity":0}},
  {"width":320,"height":420,
   "encoding":{"x":{"field":"x","type":"quantitative","scale":{"domain":[0,32],"nice":false,"zero":false},"axis":null},"y":{"field":"y","type":"quantitative","scale":{"domain":[0,42],"nice":false,"zero":false},"axis":null}},
   "layer":[
    {"data":{"values":[{"x":12.3,"y":30.3,"x2":16.3,"y2":26.4},{"x":20.4,"y":30.3,"x2":16.3,"y2":26.4},{"x":16.3,"y":26.4,"x2":16.3,"y2":21.2},{"x":16.0,"y":20.0,"x2":12.7,"y2":15.0},{"x":16.3,"y":13.2,"x2":16.3,"y2":6.8}]},"mark":{"type":"rule","color":"#111111","strokeWidth":4.5},"encoding":{"x2":{"field":"x2"},"y2":{"field":"y2"}}},
    {"data":{"values":[{"x":14.8,"y":6.8,"x2":17.9,"y2":6.8}]},"mark":{"type":"rule","color":"#111111","strokeWidth":6},"encoding":{"x2":{"field":"x2"},"y2":{"field":"y2"}}},
    {"data":{"values":[{"x":12.5,"y":14.6},{"x":13.3,"y":13.9},{"x":14.8,"y":13.6}]},"mark":{"type":"line","color":"#555555","strokeWidth":1.3,"interpolate":"basis"},"encoding":{}},
    {"data":{"values":[{"x":15.0,"y":13.6}]},"mark":{"type":"point","shape":"triangle-right","filled":true,"color":"#555555","size":35,"opacity":1},"encoding":{}},
    {"data":{"values":[{"x":16.3,"y":20.6},{"x":16.3,"y":13.8}]},"mark":{"type":"point","shape":"circle","filled":true,"fill":"white","stroke":"#111111","strokeWidth":2.5,"size":150,"opacity":1},"encoding":{}},
    {"data":{"values":[{"x":0.3,"y":23.4},{"x":1.3,"y":21.1},{"x":2.8,"y":19.0},{"x":5.0,"y":17.5},{"x":7.6,"y":16.4}]},"mark":{"type":"line","color":"#111111","strokeWidth":6.5,"interpolate":"basis"},"encoding":{}},
    {"data":{"values":[{"x":9.3,"y":15.9}]},"mark":{"type":"point","shape":"triangle-right","filled":true,"color":"#111111","size":750,"opacity":1,"angle":15},"encoding":{}},
    {"data":{"values":[{"x":7.0,"y":32.8,"t":"Opposing"},{"x":7.0,"y":29.5,"t":"drives"},{"x":24.8,"y":32.8,"t":"23 minute"},{"x":24.8,"y":29.5,"t":"timer"},{"x":16.3,"y":4.2,"t":"Mating"}]},"mark":{"type":"text","fontSize":28,"color":"#111111"},"encoding":{"text":{"field":"t"}}}
   ]}
 ]},
 {"width":1,"height":449,"data":{"values":[{}]},"mark":{"type":"point","opacity":0}}
]
}
